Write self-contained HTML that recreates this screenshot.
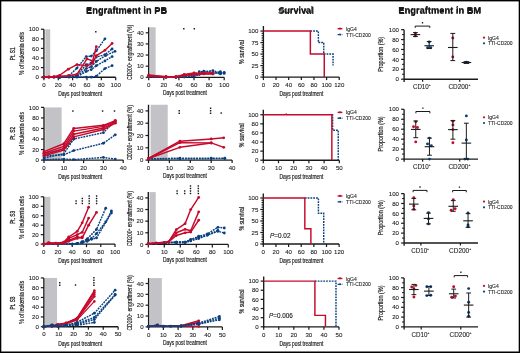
<!DOCTYPE html>
<html><head><meta charset="utf-8"><style>html,body{margin:0;padding:0;background:#fff;}svg{display:block;font-family:"Liberation Sans",sans-serif;will-change:transform;}</style></head>
<body>
<svg width="520" height="353" viewBox="0 0 520 353" font-family="Liberation Sans, sans-serif">
<rect x="0" y="0" width="520" height="353" fill="#fff"/>
<rect x="0" y="0" width="520" height="1.4" fill="#000"/><rect x="0" y="0" width="1.3" height="353" fill="#000"/><rect x="518.7" y="0" width="1.3" height="353" fill="#000"/><rect x="0" y="351.5" width="520" height="1.5" fill="#000"/>
<text x="126.60" y="13.60" font-size="9.3" text-anchor="middle" fill="#1a1a1a" font-weight="bold">Engraftment in PB</text>
<text x="296.00" y="13.60" font-size="9.3" text-anchor="middle" fill="#1a1a1a" font-weight="bold">Survival</text>
<text x="439.80" y="13.60" font-size="9.3" text-anchor="middle" fill="#1a1a1a" font-weight="bold">Engraftment in BM</text>
<text x="126.60" y="12.80" font-size="8.3" text-anchor="middle" fill="#1a1a1a" textLength="81.0" lengthAdjust="spacingAndGlyphs" font-weight="bold">Engraftment in PB</text>
<text x="296.00" y="12.80" font-size="8.3" text-anchor="middle" fill="#1a1a1a" textLength="34.5" lengthAdjust="spacingAndGlyphs" font-weight="bold">Survival</text>
<text x="439.80" y="12.80" font-size="8.3" text-anchor="middle" fill="#1a1a1a" textLength="83.0" lengthAdjust="spacingAndGlyphs" font-weight="bold">Engraftment in BM</text>
<rect x="45.34" y="29.25" width="4.88" height="47.95" fill="#c3c3c7"/>
<line x1="43.90" y1="77.80" x2="43.90" y2="29.25" stroke="#1a1a1a" stroke-width="1.35" />
<line x1="43.30" y1="77.20" x2="115.70" y2="77.20" stroke="#1a1a1a" stroke-width="1.35" />
<line x1="40.90" y1="77.20" x2="43.90" y2="77.20" stroke="#1a1a1a" stroke-width="1.215" />
<text x="38.90" y="79.35" font-size="6.1" text-anchor="end" fill="#1a1a1a" stroke="#1a1a1a" stroke-width="0.09">0</text>
<line x1="40.90" y1="67.61" x2="43.90" y2="67.61" stroke="#1a1a1a" stroke-width="1.215" />
<text x="38.90" y="69.76" font-size="6.1" text-anchor="end" fill="#1a1a1a" stroke="#1a1a1a" stroke-width="0.09">20</text>
<line x1="40.90" y1="58.02" x2="43.90" y2="58.02" stroke="#1a1a1a" stroke-width="1.215" />
<text x="38.90" y="60.17" font-size="6.1" text-anchor="end" fill="#1a1a1a" stroke="#1a1a1a" stroke-width="0.09">40</text>
<line x1="40.90" y1="48.43" x2="43.90" y2="48.43" stroke="#1a1a1a" stroke-width="1.215" />
<text x="38.90" y="50.58" font-size="6.1" text-anchor="end" fill="#1a1a1a" stroke="#1a1a1a" stroke-width="0.09">60</text>
<line x1="40.90" y1="38.84" x2="43.90" y2="38.84" stroke="#1a1a1a" stroke-width="1.215" />
<text x="38.90" y="40.99" font-size="6.1" text-anchor="end" fill="#1a1a1a" stroke="#1a1a1a" stroke-width="0.09">80</text>
<line x1="40.90" y1="29.25" x2="43.90" y2="29.25" stroke="#1a1a1a" stroke-width="1.215" />
<text x="38.90" y="31.40" font-size="6.1" text-anchor="end" fill="#1a1a1a" stroke="#1a1a1a" stroke-width="0.09">100</text>
<line x1="43.90" y1="77.20" x2="43.90" y2="80.20" stroke="#1a1a1a" stroke-width="1.215" />
<text x="43.90" y="86.90" font-size="6.1" text-anchor="middle" fill="#1a1a1a" stroke="#1a1a1a" stroke-width="0.09">0</text>
<line x1="58.26" y1="77.20" x2="58.26" y2="80.20" stroke="#1a1a1a" stroke-width="1.215" />
<text x="58.26" y="86.90" font-size="6.1" text-anchor="middle" fill="#1a1a1a" stroke="#1a1a1a" stroke-width="0.09">20</text>
<line x1="72.62" y1="77.20" x2="72.62" y2="80.20" stroke="#1a1a1a" stroke-width="1.215" />
<text x="72.62" y="86.90" font-size="6.1" text-anchor="middle" fill="#1a1a1a" stroke="#1a1a1a" stroke-width="0.09">40</text>
<line x1="86.98" y1="77.20" x2="86.98" y2="80.20" stroke="#1a1a1a" stroke-width="1.215" />
<text x="86.98" y="86.90" font-size="6.1" text-anchor="middle" fill="#1a1a1a" stroke="#1a1a1a" stroke-width="0.09">60</text>
<line x1="101.34" y1="77.20" x2="101.34" y2="80.20" stroke="#1a1a1a" stroke-width="1.215" />
<text x="101.34" y="86.90" font-size="6.1" text-anchor="middle" fill="#1a1a1a" stroke="#1a1a1a" stroke-width="0.09">80</text>
<line x1="115.70" y1="77.20" x2="115.70" y2="80.20" stroke="#1a1a1a" stroke-width="1.215" />
<text x="115.70" y="86.90" font-size="6.1" text-anchor="middle" fill="#1a1a1a" stroke="#1a1a1a" stroke-width="0.09">100</text>
<text x="80.20" y="96.40" font-size="6.4" text-anchor="middle" fill="#1a1a1a" stroke="#1a1a1a" stroke-width="0.18" textLength="43.9" lengthAdjust="spacingAndGlyphs">Days post treatment</text>
<text x="23.60" y="53.40" font-size="6.9" text-anchor="middle" fill="#1a1a1a" stroke="#1a1a1a" stroke-width="0.18" textLength="43.0" lengthAdjust="spacingAndGlyphs" transform="rotate(-90 23.60 53.40)">% of leukemia cells</text>
<text x="15.00" y="53.85" font-size="8.0" text-anchor="middle" fill="#1a1a1a" stroke="#1a1a1a" stroke-width="0.3" textLength="12.8" lengthAdjust="spacingAndGlyphs" transform="rotate(-90 15.00 53.85)">Pt. S1</text>
<polyline points="43.90,77.20 48.93,77.20 53.95,77.20 59.70,77.20 69.03,75.76 76.93,68.09 86.26,56.58 91.29,56.10 96.31,50.83 104.93,38.84" fill="none" stroke="#0a407f" stroke-width="1.45" stroke-linejoin="round" stroke-dasharray="1.9,0.9"/>
<circle cx="43.90" cy="77.20" r="1.4" fill="#0a407f"/>
<circle cx="48.93" cy="77.20" r="1.4" fill="#0a407f"/>
<circle cx="53.95" cy="77.20" r="1.4" fill="#0a407f"/>
<circle cx="59.70" cy="77.20" r="1.4" fill="#0a407f"/>
<circle cx="69.03" cy="75.76" r="1.4" fill="#0a407f"/>
<circle cx="76.93" cy="68.09" r="1.4" fill="#0a407f"/>
<circle cx="86.26" cy="56.58" r="1.4" fill="#0a407f"/>
<circle cx="91.29" cy="56.10" r="1.4" fill="#0a407f"/>
<circle cx="96.31" cy="50.83" r="1.4" fill="#0a407f"/>
<circle cx="104.93" cy="38.84" r="1.4" fill="#0a407f"/>
<polyline points="43.90,77.20 53.95,77.20 59.70,77.20 69.03,76.72 76.93,74.80 86.26,64.73 91.29,62.81 96.31,57.06 104.93,54.66 112.11,48.91" fill="none" stroke="#0a407f" stroke-width="1.45" stroke-linejoin="round" stroke-dasharray="1.9,0.9"/>
<circle cx="43.90" cy="77.20" r="1.4" fill="#0a407f"/>
<circle cx="53.95" cy="77.20" r="1.4" fill="#0a407f"/>
<circle cx="59.70" cy="77.20" r="1.4" fill="#0a407f"/>
<circle cx="69.03" cy="76.72" r="1.4" fill="#0a407f"/>
<circle cx="76.93" cy="74.80" r="1.4" fill="#0a407f"/>
<circle cx="86.26" cy="64.73" r="1.4" fill="#0a407f"/>
<circle cx="91.29" cy="62.81" r="1.4" fill="#0a407f"/>
<circle cx="96.31" cy="57.06" r="1.4" fill="#0a407f"/>
<circle cx="104.93" cy="54.66" r="1.4" fill="#0a407f"/>
<circle cx="112.11" cy="48.91" r="1.4" fill="#0a407f"/>
<polyline points="43.90,77.20 59.70,77.20 69.03,77.20 76.93,76.24 86.26,68.57 91.29,66.65 96.31,61.38 105.65,55.62 114.98,51.31" fill="none" stroke="#0a407f" stroke-width="1.45" stroke-linejoin="round" stroke-dasharray="1.9,0.9"/>
<circle cx="43.90" cy="77.20" r="1.4" fill="#0a407f"/>
<circle cx="59.70" cy="77.20" r="1.4" fill="#0a407f"/>
<circle cx="69.03" cy="77.20" r="1.4" fill="#0a407f"/>
<circle cx="76.93" cy="76.24" r="1.4" fill="#0a407f"/>
<circle cx="86.26" cy="68.57" r="1.4" fill="#0a407f"/>
<circle cx="91.29" cy="66.65" r="1.4" fill="#0a407f"/>
<circle cx="96.31" cy="61.38" r="1.4" fill="#0a407f"/>
<circle cx="105.65" cy="55.62" r="1.4" fill="#0a407f"/>
<circle cx="114.98" cy="51.31" r="1.4" fill="#0a407f"/>
<polyline points="43.90,77.20 59.70,77.20 76.93,76.72 86.26,71.45 91.29,69.53 96.31,65.69 104.93,60.90 112.11,56.58" fill="none" stroke="#0a407f" stroke-width="1.45" stroke-linejoin="round" stroke-dasharray="1.9,0.9"/>
<circle cx="43.90" cy="77.20" r="1.4" fill="#0a407f"/>
<circle cx="59.70" cy="77.20" r="1.4" fill="#0a407f"/>
<circle cx="76.93" cy="76.72" r="1.4" fill="#0a407f"/>
<circle cx="86.26" cy="71.45" r="1.4" fill="#0a407f"/>
<circle cx="91.29" cy="69.53" r="1.4" fill="#0a407f"/>
<circle cx="96.31" cy="65.69" r="1.4" fill="#0a407f"/>
<circle cx="104.93" cy="60.90" r="1.4" fill="#0a407f"/>
<circle cx="112.11" cy="56.58" r="1.4" fill="#0a407f"/>
<polyline points="43.90,77.20 59.70,77.20 76.93,77.20 86.26,77.20 91.29,77.20 96.31,76.24 104.93,68.57 112.11,65.69" fill="none" stroke="#0a407f" stroke-width="1.45" stroke-linejoin="round" stroke-dasharray="1.9,0.9"/>
<circle cx="43.90" cy="77.20" r="1.4" fill="#0a407f"/>
<circle cx="59.70" cy="77.20" r="1.4" fill="#0a407f"/>
<circle cx="76.93" cy="77.20" r="1.4" fill="#0a407f"/>
<circle cx="86.26" cy="77.20" r="1.4" fill="#0a407f"/>
<circle cx="91.29" cy="77.20" r="1.4" fill="#0a407f"/>
<circle cx="96.31" cy="76.24" r="1.4" fill="#0a407f"/>
<circle cx="104.93" cy="68.57" r="1.4" fill="#0a407f"/>
<circle cx="112.11" cy="65.69" r="1.4" fill="#0a407f"/>
<polyline points="43.90,77.20 48.93,76.96 53.95,76.72 59.70,75.28 68.31,69.14 76.93,64.59 86.98,65.88 92.72,63.29 96.31,55.62 104.93,50.35 112.11,43.44" fill="none" stroke="#c60a2c" stroke-width="1.45" stroke-linejoin="round" />
<circle cx="43.90" cy="77.20" r="1.4" fill="#c60a2c"/>
<circle cx="48.93" cy="76.96" r="1.4" fill="#c60a2c"/>
<circle cx="53.95" cy="76.72" r="1.4" fill="#c60a2c"/>
<circle cx="59.70" cy="75.28" r="1.4" fill="#c60a2c"/>
<circle cx="68.31" cy="69.14" r="1.4" fill="#c60a2c"/>
<circle cx="76.93" cy="64.59" r="1.4" fill="#c60a2c"/>
<circle cx="86.98" cy="65.88" r="1.4" fill="#c60a2c"/>
<circle cx="92.72" cy="63.29" r="1.4" fill="#c60a2c"/>
<circle cx="96.31" cy="55.62" r="1.4" fill="#c60a2c"/>
<circle cx="104.93" cy="50.35" r="1.4" fill="#c60a2c"/>
<circle cx="112.11" cy="43.44" r="1.4" fill="#c60a2c"/>
<polyline points="43.90,77.20 48.93,77.20 53.95,76.96 59.70,76.24 68.31,75.76 76.93,74.32 86.98,58.88 92.72,60.99 96.31,46.70" fill="none" stroke="#c60a2c" stroke-width="1.45" stroke-linejoin="round" />
<circle cx="43.90" cy="77.20" r="1.4" fill="#c60a2c"/>
<circle cx="48.93" cy="77.20" r="1.4" fill="#c60a2c"/>
<circle cx="53.95" cy="76.96" r="1.4" fill="#c60a2c"/>
<circle cx="59.70" cy="76.24" r="1.4" fill="#c60a2c"/>
<circle cx="68.31" cy="75.76" r="1.4" fill="#c60a2c"/>
<circle cx="76.93" cy="74.32" r="1.4" fill="#c60a2c"/>
<circle cx="86.98" cy="58.88" r="1.4" fill="#c60a2c"/>
<circle cx="92.72" cy="60.99" r="1.4" fill="#c60a2c"/>
<circle cx="96.31" cy="46.70" r="1.4" fill="#c60a2c"/>
<rect x="95.05" y="31.05" width="1.5" height="1.5" rx="0.3" fill="#1a1a1a"/>
<rect x="150.06" y="27.24" width="5.59" height="50.06" fill="#c3c3c7"/>
<line x1="148.70" y1="77.90" x2="148.70" y2="27.24" stroke="#1a1a1a" stroke-width="1.35" />
<line x1="148.10" y1="77.30" x2="224.20" y2="77.30" stroke="#1a1a1a" stroke-width="1.35" />
<line x1="145.70" y1="77.30" x2="148.70" y2="77.30" stroke="#1a1a1a" stroke-width="1.215" />
<text x="143.70" y="79.45" font-size="6.1" text-anchor="end" fill="#1a1a1a" stroke="#1a1a1a" stroke-width="0.09">0</text>
<line x1="145.70" y1="66.17" x2="148.70" y2="66.17" stroke="#1a1a1a" stroke-width="1.215" />
<text x="143.70" y="68.33" font-size="6.1" text-anchor="end" fill="#1a1a1a" stroke="#1a1a1a" stroke-width="0.09">10</text>
<line x1="145.70" y1="55.05" x2="148.70" y2="55.05" stroke="#1a1a1a" stroke-width="1.215" />
<text x="143.70" y="57.20" font-size="6.1" text-anchor="end" fill="#1a1a1a" stroke="#1a1a1a" stroke-width="0.09">20</text>
<line x1="145.70" y1="43.92" x2="148.70" y2="43.92" stroke="#1a1a1a" stroke-width="1.215" />
<text x="143.70" y="46.07" font-size="6.1" text-anchor="end" fill="#1a1a1a" stroke="#1a1a1a" stroke-width="0.09">30</text>
<line x1="145.70" y1="32.80" x2="148.70" y2="32.80" stroke="#1a1a1a" stroke-width="1.215" />
<text x="143.70" y="34.95" font-size="6.1" text-anchor="end" fill="#1a1a1a" stroke="#1a1a1a" stroke-width="0.09">40</text>
<line x1="148.70" y1="77.30" x2="148.70" y2="80.30" stroke="#1a1a1a" stroke-width="1.215" />
<text x="148.70" y="87.00" font-size="6.1" text-anchor="middle" fill="#1a1a1a" stroke="#1a1a1a" stroke-width="0.09">0</text>
<line x1="163.80" y1="77.30" x2="163.80" y2="80.30" stroke="#1a1a1a" stroke-width="1.215" />
<text x="163.80" y="87.00" font-size="6.1" text-anchor="middle" fill="#1a1a1a" stroke="#1a1a1a" stroke-width="0.09">20</text>
<line x1="178.90" y1="77.30" x2="178.90" y2="80.30" stroke="#1a1a1a" stroke-width="1.215" />
<text x="178.90" y="87.00" font-size="6.1" text-anchor="middle" fill="#1a1a1a" stroke="#1a1a1a" stroke-width="0.09">40</text>
<line x1="194.00" y1="77.30" x2="194.00" y2="80.30" stroke="#1a1a1a" stroke-width="1.215" />
<text x="194.00" y="87.00" font-size="6.1" text-anchor="middle" fill="#1a1a1a" stroke="#1a1a1a" stroke-width="0.09">60</text>
<line x1="209.10" y1="77.30" x2="209.10" y2="80.30" stroke="#1a1a1a" stroke-width="1.215" />
<text x="209.10" y="87.00" font-size="6.1" text-anchor="middle" fill="#1a1a1a" stroke="#1a1a1a" stroke-width="0.09">80</text>
<line x1="224.20" y1="77.30" x2="224.20" y2="80.30" stroke="#1a1a1a" stroke-width="1.215" />
<text x="224.20" y="87.00" font-size="6.1" text-anchor="middle" fill="#1a1a1a" stroke="#1a1a1a" stroke-width="0.09">100</text>
<text x="185.00" y="95.30" font-size="6.4" text-anchor="middle" fill="#1a1a1a" stroke="#1a1a1a" stroke-width="0.18" textLength="43.9" lengthAdjust="spacingAndGlyphs">Days post treatment</text>
<text x="131.90" y="52.40" font-size="6.7" text-anchor="middle" fill="#1a1a1a" stroke="#1a1a1a" stroke-width="0.18" textLength="55.2" lengthAdjust="spacingAndGlyphs" transform="rotate(-90 131.90 52.40)">CD200<tspan font-size="4.2" dy="-2.3">+</tspan><tspan dy="2.3"> engraftment (%)</tspan></text>
<polyline points="148.70,76.74 166.06,77.30 175.88,77.30 184.19,76.74 194.00,75.08 199.28,71.74 203.81,71.74 212.88,70.62 220.42,72.85 224.20,73.41" fill="none" stroke="#0a407f" stroke-width="1.45" stroke-linejoin="round" stroke-dasharray="1.9,0.9"/>
<circle cx="148.70" cy="76.74" r="1.4" fill="#0a407f"/>
<circle cx="166.06" cy="77.30" r="1.4" fill="#0a407f"/>
<circle cx="175.88" cy="77.30" r="1.4" fill="#0a407f"/>
<circle cx="184.19" cy="76.74" r="1.4" fill="#0a407f"/>
<circle cx="194.00" cy="75.08" r="1.4" fill="#0a407f"/>
<circle cx="199.28" cy="71.74" r="1.4" fill="#0a407f"/>
<circle cx="203.81" cy="71.74" r="1.4" fill="#0a407f"/>
<circle cx="212.88" cy="70.62" r="1.4" fill="#0a407f"/>
<circle cx="220.42" cy="72.85" r="1.4" fill="#0a407f"/>
<circle cx="224.20" cy="73.41" r="1.4" fill="#0a407f"/>
<polyline points="148.70,76.74 166.06,77.30 175.88,77.30 184.19,76.74 194.00,75.63 199.28,73.41 203.81,71.18 212.88,72.29 220.42,73.96 224.20,72.29" fill="none" stroke="#0a407f" stroke-width="1.45" stroke-linejoin="round" stroke-dasharray="1.9,0.9"/>
<circle cx="148.70" cy="76.74" r="1.4" fill="#0a407f"/>
<circle cx="166.06" cy="77.30" r="1.4" fill="#0a407f"/>
<circle cx="175.88" cy="77.30" r="1.4" fill="#0a407f"/>
<circle cx="184.19" cy="76.74" r="1.4" fill="#0a407f"/>
<circle cx="194.00" cy="75.63" r="1.4" fill="#0a407f"/>
<circle cx="199.28" cy="73.41" r="1.4" fill="#0a407f"/>
<circle cx="203.81" cy="71.18" r="1.4" fill="#0a407f"/>
<circle cx="212.88" cy="72.29" r="1.4" fill="#0a407f"/>
<circle cx="220.42" cy="73.96" r="1.4" fill="#0a407f"/>
<circle cx="224.20" cy="72.29" r="1.4" fill="#0a407f"/>
<polyline points="148.70,76.74 175.88,77.30 184.19,76.97 194.00,76.19 199.28,74.52 203.81,73.41 212.88,73.96 220.42,71.74" fill="none" stroke="#0a407f" stroke-width="1.45" stroke-linejoin="round" stroke-dasharray="1.9,0.9"/>
<circle cx="148.70" cy="76.74" r="1.4" fill="#0a407f"/>
<circle cx="175.88" cy="77.30" r="1.4" fill="#0a407f"/>
<circle cx="184.19" cy="76.97" r="1.4" fill="#0a407f"/>
<circle cx="194.00" cy="76.19" r="1.4" fill="#0a407f"/>
<circle cx="199.28" cy="74.52" r="1.4" fill="#0a407f"/>
<circle cx="203.81" cy="73.41" r="1.4" fill="#0a407f"/>
<circle cx="212.88" cy="73.96" r="1.4" fill="#0a407f"/>
<circle cx="220.42" cy="71.74" r="1.4" fill="#0a407f"/>
<polyline points="148.70,75.08 166.06,76.74 175.88,76.74 184.19,74.52 194.00,72.85 199.28,73.41 203.81,73.41 212.88,73.07" fill="none" stroke="#c60a2c" stroke-width="1.45" stroke-linejoin="round" />
<circle cx="148.70" cy="75.08" r="1.4" fill="#c60a2c"/>
<circle cx="166.06" cy="76.74" r="1.4" fill="#c60a2c"/>
<circle cx="175.88" cy="76.74" r="1.4" fill="#c60a2c"/>
<circle cx="184.19" cy="74.52" r="1.4" fill="#c60a2c"/>
<circle cx="194.00" cy="72.85" r="1.4" fill="#c60a2c"/>
<circle cx="199.28" cy="73.41" r="1.4" fill="#c60a2c"/>
<circle cx="203.81" cy="73.41" r="1.4" fill="#c60a2c"/>
<circle cx="212.88" cy="73.07" r="1.4" fill="#c60a2c"/>
<polyline points="148.70,75.63 166.06,76.74 175.88,76.74 184.19,75.08 194.00,73.96 199.28,73.96 203.81,73.96 212.88,73.96" fill="none" stroke="#c60a2c" stroke-width="1.45" stroke-linejoin="round" />
<circle cx="148.70" cy="75.63" r="1.4" fill="#c60a2c"/>
<circle cx="166.06" cy="76.74" r="1.4" fill="#c60a2c"/>
<circle cx="175.88" cy="76.74" r="1.4" fill="#c60a2c"/>
<circle cx="184.19" cy="75.08" r="1.4" fill="#c60a2c"/>
<circle cx="194.00" cy="73.96" r="1.4" fill="#c60a2c"/>
<circle cx="199.28" cy="73.96" r="1.4" fill="#c60a2c"/>
<circle cx="203.81" cy="73.96" r="1.4" fill="#c60a2c"/>
<circle cx="212.88" cy="73.96" r="1.4" fill="#c60a2c"/>
<polyline points="148.70,76.19 166.06,76.97 175.88,76.97 184.19,75.63 194.00,74.52 203.81,72.85 212.88,72.85" fill="none" stroke="#c60a2c" stroke-width="1.45" stroke-linejoin="round" />
<circle cx="148.70" cy="76.19" r="1.4" fill="#c60a2c"/>
<circle cx="166.06" cy="76.97" r="1.4" fill="#c60a2c"/>
<circle cx="175.88" cy="76.97" r="1.4" fill="#c60a2c"/>
<circle cx="184.19" cy="75.63" r="1.4" fill="#c60a2c"/>
<circle cx="194.00" cy="74.52" r="1.4" fill="#c60a2c"/>
<circle cx="203.81" cy="72.85" r="1.4" fill="#c60a2c"/>
<circle cx="212.88" cy="72.85" r="1.4" fill="#c60a2c"/>
<rect x="183.05" y="28.05" width="1.5" height="1.5" rx="0.3" fill="#1a1a1a"/>
<rect x="193.55" y="28.05" width="1.5" height="1.5" rx="0.3" fill="#1a1a1a"/>
<line x1="263.40" y1="77.70" x2="263.40" y2="25.98" stroke="#1a1a1a" stroke-width="1.35" />
<line x1="262.80" y1="77.10" x2="339.24" y2="77.10" stroke="#1a1a1a" stroke-width="1.35" />
<line x1="260.40" y1="77.10" x2="263.40" y2="77.10" stroke="#1a1a1a" stroke-width="1.215" />
<text x="258.40" y="79.25" font-size="6.1" text-anchor="end" fill="#1a1a1a" stroke="#1a1a1a" stroke-width="0.09">0</text>
<line x1="260.40" y1="65.59" x2="263.40" y2="65.59" stroke="#1a1a1a" stroke-width="1.215" />
<text x="258.40" y="67.74" font-size="6.1" text-anchor="end" fill="#1a1a1a" stroke="#1a1a1a" stroke-width="0.09">25</text>
<line x1="260.40" y1="54.07" x2="263.40" y2="54.07" stroke="#1a1a1a" stroke-width="1.215" />
<text x="258.40" y="56.22" font-size="6.1" text-anchor="end" fill="#1a1a1a" stroke="#1a1a1a" stroke-width="0.09">50</text>
<line x1="260.40" y1="42.56" x2="263.40" y2="42.56" stroke="#1a1a1a" stroke-width="1.215" />
<text x="258.40" y="44.71" font-size="6.1" text-anchor="end" fill="#1a1a1a" stroke="#1a1a1a" stroke-width="0.09">75</text>
<line x1="260.40" y1="31.05" x2="263.40" y2="31.05" stroke="#1a1a1a" stroke-width="1.215" />
<text x="258.40" y="33.20" font-size="6.1" text-anchor="end" fill="#1a1a1a" stroke="#1a1a1a" stroke-width="0.09">100</text>
<line x1="261.60" y1="74.80" x2="263.40" y2="74.80" stroke="#1a1a1a" stroke-width="1.08" />
<line x1="261.60" y1="72.49" x2="263.40" y2="72.49" stroke="#1a1a1a" stroke-width="1.08" />
<line x1="261.60" y1="70.19" x2="263.40" y2="70.19" stroke="#1a1a1a" stroke-width="1.08" />
<line x1="261.60" y1="67.89" x2="263.40" y2="67.89" stroke="#1a1a1a" stroke-width="1.08" />
<line x1="261.60" y1="63.28" x2="263.40" y2="63.28" stroke="#1a1a1a" stroke-width="1.08" />
<line x1="261.60" y1="60.98" x2="263.40" y2="60.98" stroke="#1a1a1a" stroke-width="1.08" />
<line x1="261.60" y1="58.68" x2="263.40" y2="58.68" stroke="#1a1a1a" stroke-width="1.08" />
<line x1="261.60" y1="56.38" x2="263.40" y2="56.38" stroke="#1a1a1a" stroke-width="1.08" />
<line x1="261.60" y1="51.77" x2="263.40" y2="51.77" stroke="#1a1a1a" stroke-width="1.08" />
<line x1="261.60" y1="49.47" x2="263.40" y2="49.47" stroke="#1a1a1a" stroke-width="1.08" />
<line x1="261.60" y1="47.17" x2="263.40" y2="47.17" stroke="#1a1a1a" stroke-width="1.08" />
<line x1="261.60" y1="44.86" x2="263.40" y2="44.86" stroke="#1a1a1a" stroke-width="1.08" />
<line x1="261.60" y1="40.26" x2="263.40" y2="40.26" stroke="#1a1a1a" stroke-width="1.08" />
<line x1="261.60" y1="37.96" x2="263.40" y2="37.96" stroke="#1a1a1a" stroke-width="1.08" />
<line x1="261.60" y1="35.65" x2="263.40" y2="35.65" stroke="#1a1a1a" stroke-width="1.08" />
<line x1="261.60" y1="33.35" x2="263.40" y2="33.35" stroke="#1a1a1a" stroke-width="1.08" />
<line x1="263.40" y1="77.10" x2="263.40" y2="80.10" stroke="#1a1a1a" stroke-width="1.215" />
<text x="263.40" y="86.80" font-size="6.1" text-anchor="middle" fill="#1a1a1a" stroke="#1a1a1a" stroke-width="0.09">0</text>
<line x1="276.04" y1="77.10" x2="276.04" y2="80.10" stroke="#1a1a1a" stroke-width="1.215" />
<text x="276.04" y="86.80" font-size="6.1" text-anchor="middle" fill="#1a1a1a" stroke="#1a1a1a" stroke-width="0.09">20</text>
<line x1="288.68" y1="77.10" x2="288.68" y2="80.10" stroke="#1a1a1a" stroke-width="1.215" />
<text x="288.68" y="86.80" font-size="6.1" text-anchor="middle" fill="#1a1a1a" stroke="#1a1a1a" stroke-width="0.09">40</text>
<line x1="301.32" y1="77.10" x2="301.32" y2="80.10" stroke="#1a1a1a" stroke-width="1.215" />
<text x="301.32" y="86.80" font-size="6.1" text-anchor="middle" fill="#1a1a1a" stroke="#1a1a1a" stroke-width="0.09">60</text>
<line x1="313.96" y1="77.10" x2="313.96" y2="80.10" stroke="#1a1a1a" stroke-width="1.215" />
<text x="313.96" y="86.80" font-size="6.1" text-anchor="middle" fill="#1a1a1a" stroke="#1a1a1a" stroke-width="0.09">80</text>
<line x1="326.60" y1="77.10" x2="326.60" y2="80.10" stroke="#1a1a1a" stroke-width="1.215" />
<text x="326.60" y="86.80" font-size="6.1" text-anchor="middle" fill="#1a1a1a" stroke="#1a1a1a" stroke-width="0.09">100</text>
<line x1="339.24" y1="77.10" x2="339.24" y2="80.10" stroke="#1a1a1a" stroke-width="1.215" />
<text x="339.24" y="86.80" font-size="6.1" text-anchor="middle" fill="#1a1a1a" stroke="#1a1a1a" stroke-width="0.09">120</text>
<text x="301.40" y="96.30" font-size="6.4" text-anchor="middle" fill="#1a1a1a" stroke="#1a1a1a" stroke-width="0.18" textLength="43.9" lengthAdjust="spacingAndGlyphs">Days post treatment</text>
<text x="243.60" y="52.00" font-size="6.5" text-anchor="middle" fill="#1a1a1a" stroke="#1a1a1a" stroke-width="0.18" textLength="23.8" lengthAdjust="spacingAndGlyphs" transform="rotate(-90 243.60 52.00)">% survival</text>
<line x1="337.60" y1="28.70" x2="342.40" y2="28.70" stroke="#c60a2c" stroke-width="1.4" />
<circle cx="340.0" cy="28.50" r="1.0" fill="#c60a2c"/>
<text x="345.90" y="30.70" font-size="5.6" text-anchor="start" fill="#1a1a1a" stroke="#1a1a1a" stroke-width="0.09" textLength="11.0" lengthAdjust="spacingAndGlyphs">IgG4</text>
<line x1="337.60" y1="34.60" x2="342.40" y2="34.60" stroke="#0a407f" stroke-width="1.4" stroke-dasharray="1.4,0.7"/>
<circle cx="340.0" cy="34.40" r="1.0" fill="#0a407f"/>
<text x="346.10" y="36.60" font-size="5.6" text-anchor="start" fill="#1a1a1a" stroke="#1a1a1a" stroke-width="0.09" textLength="24.6" lengthAdjust="spacingAndGlyphs">TTI-CD200</text>
<polyline points="310.36,31.05 318.38,31.05 318.38,42.56 323.76,42.56 323.76,54.07 333.05,54.07 333.05,65.59" fill="none" stroke="#0a407f" stroke-width="1.45" stroke-dasharray="1.8,1.0"/>
<polyline points="263.40,31.05 310.36,31.05 310.36,54.07 324.26,54.07 324.26,77.10" fill="none" stroke="#c60a2c" stroke-width="1.45" />
<line x1="404.10" y1="81.90" x2="404.10" y2="29.65" stroke="#1a1a1a" stroke-width="1.35" />
<line x1="404.10" y1="79.20" x2="478.00" y2="79.20" stroke="#1a1a1a" stroke-width="1.35" />
<line x1="401.10" y1="79.20" x2="404.10" y2="79.20" stroke="#1a1a1a" stroke-width="1.215" />
<text x="399.00" y="81.35" font-size="6.1" text-anchor="end" fill="#1a1a1a" stroke="#1a1a1a" stroke-width="0.09">0</text>
<line x1="401.10" y1="69.29" x2="404.10" y2="69.29" stroke="#1a1a1a" stroke-width="1.215" />
<text x="399.00" y="71.44" font-size="6.1" text-anchor="end" fill="#1a1a1a" stroke="#1a1a1a" stroke-width="0.09">20</text>
<line x1="401.10" y1="59.38" x2="404.10" y2="59.38" stroke="#1a1a1a" stroke-width="1.215" />
<text x="399.00" y="61.53" font-size="6.1" text-anchor="end" fill="#1a1a1a" stroke="#1a1a1a" stroke-width="0.09">40</text>
<line x1="401.10" y1="49.47" x2="404.10" y2="49.47" stroke="#1a1a1a" stroke-width="1.215" />
<text x="399.00" y="51.62" font-size="6.1" text-anchor="end" fill="#1a1a1a" stroke="#1a1a1a" stroke-width="0.09">60</text>
<line x1="401.10" y1="39.56" x2="404.10" y2="39.56" stroke="#1a1a1a" stroke-width="1.215" />
<text x="399.00" y="41.71" font-size="6.1" text-anchor="end" fill="#1a1a1a" stroke="#1a1a1a" stroke-width="0.09">80</text>
<line x1="401.10" y1="29.65" x2="404.10" y2="29.65" stroke="#1a1a1a" stroke-width="1.215" />
<text x="399.00" y="31.80" font-size="6.1" text-anchor="end" fill="#1a1a1a" stroke="#1a1a1a" stroke-width="0.09">100</text>
<line x1="402.10" y1="74.25" x2="404.10" y2="74.25" stroke="#1a1a1a" stroke-width="1.08" />
<line x1="402.10" y1="64.34" x2="404.10" y2="64.34" stroke="#1a1a1a" stroke-width="1.08" />
<line x1="402.10" y1="54.42" x2="404.10" y2="54.42" stroke="#1a1a1a" stroke-width="1.08" />
<line x1="402.10" y1="44.52" x2="404.10" y2="44.52" stroke="#1a1a1a" stroke-width="1.08" />
<line x1="402.10" y1="34.60" x2="404.10" y2="34.60" stroke="#1a1a1a" stroke-width="1.08" />
<line x1="422.60" y1="79.20" x2="422.60" y2="81.70" stroke="#1a1a1a" stroke-width="1.215" />
<line x1="459.70" y1="79.20" x2="459.70" y2="81.70" stroke="#1a1a1a" stroke-width="1.215" />
<text x="421.80" y="88.90" font-size="6.5" text-anchor="middle" fill="#1a1a1a" stroke="#1a1a1a" stroke-width="0.09" textLength="17.8" lengthAdjust="spacingAndGlyphs">CD10<tspan font-size="3.4" dy="-3.0">+</tspan></text>
<text x="459.40" y="88.90" font-size="6.5" text-anchor="middle" fill="#1a1a1a" stroke="#1a1a1a" stroke-width="0.09" textLength="22.0" lengthAdjust="spacingAndGlyphs">CD200<tspan font-size="3.4" dy="-3.0">+</tspan></text>
<text x="383.40" y="54.35" font-size="6.9" text-anchor="middle" fill="#1a1a1a" stroke="#1a1a1a" stroke-width="0.18" textLength="35.0" lengthAdjust="spacingAndGlyphs" transform="rotate(-90 383.40 54.35)">Proportion (%)</text>
<circle cx="415.40" cy="33.12" r="1.45" fill="#c60a2c"/>
<circle cx="415.40" cy="35.84" r="1.45" fill="#c60a2c"/>
<line x1="415.40" y1="32.62" x2="415.40" y2="36.59" stroke="#1a1a1a" stroke-width="1.0" />
<line x1="413.00" y1="32.62" x2="417.80" y2="32.62" stroke="#1a1a1a" stroke-width="1.0" />
<line x1="413.00" y1="36.59" x2="417.80" y2="36.59" stroke="#1a1a1a" stroke-width="1.0" />
<line x1="410.60" y1="34.60" x2="420.20" y2="34.60" stroke="#1a1a1a" stroke-width="1.1" />
<circle cx="429.20" cy="42.04" r="1.45" fill="#0a407f"/>
<circle cx="427.60" cy="47.74" r="1.45" fill="#0a407f"/>
<circle cx="430.80" cy="47.74" r="1.45" fill="#0a407f"/>
<line x1="429.20" y1="41.54" x2="429.20" y2="48.48" stroke="#1a1a1a" stroke-width="1.0" />
<line x1="426.80" y1="41.54" x2="431.60" y2="41.54" stroke="#1a1a1a" stroke-width="1.0" />
<line x1="426.80" y1="48.48" x2="431.60" y2="48.48" stroke="#1a1a1a" stroke-width="1.0" />
<line x1="424.40" y1="45.75" x2="434.00" y2="45.75" stroke="#1a1a1a" stroke-width="1.1" />
<circle cx="452.80" cy="38.02" r="1.45" fill="#c60a2c"/>
<circle cx="452.80" cy="56.90" r="1.45" fill="#c60a2c"/>
<line x1="452.80" y1="33.42" x2="452.80" y2="60.62" stroke="#1a1a1a" stroke-width="1.0" />
<line x1="450.40" y1="33.42" x2="455.20" y2="33.42" stroke="#1a1a1a" stroke-width="1.0" />
<line x1="450.40" y1="60.62" x2="455.20" y2="60.62" stroke="#1a1a1a" stroke-width="1.0" />
<line x1="448.00" y1="47.49" x2="457.60" y2="47.49" stroke="#1a1a1a" stroke-width="1.1" />
<circle cx="464.60" cy="62.60" r="1.45" fill="#0a407f"/>
<circle cx="468.20" cy="62.60" r="1.45" fill="#0a407f"/>
<circle cx="466.40" cy="62.11" r="1.45" fill="#0a407f"/>
<line x1="466.40" y1="61.86" x2="466.40" y2="63.34" stroke="#1a1a1a" stroke-width="1.0" />
<line x1="464.00" y1="61.86" x2="468.80" y2="61.86" stroke="#1a1a1a" stroke-width="1.0" />
<line x1="464.00" y1="63.34" x2="468.80" y2="63.34" stroke="#1a1a1a" stroke-width="1.0" />
<line x1="461.60" y1="62.50" x2="471.20" y2="62.50" stroke="#1a1a1a" stroke-width="1.1" />
<polyline points="415.20,27.90 415.20,26.10 429.80,26.10 429.80,27.90" fill="none" stroke="#1a1a1a" stroke-width="1.0"/>
<rect x="421.80" y="22.00" width="1.4" height="1.4" rx="0.3" fill="#1a1a1a"/>
<circle cx="484.0" cy="37.65" r="1.1" fill="#c60a2c"/>
<text x="487.90" y="39.65" font-size="5.6" text-anchor="start" fill="#1a1a1a" stroke="#1a1a1a" stroke-width="0.09" textLength="11.0" lengthAdjust="spacingAndGlyphs">IgG4</text>
<circle cx="484.0" cy="43.35" r="1.1" fill="#0a407f"/>
<text x="488.00" y="45.35" font-size="5.6" text-anchor="start" fill="#1a1a1a" stroke="#1a1a1a" stroke-width="0.09" textLength="24.6" lengthAdjust="spacingAndGlyphs">TTI-CD200</text>
<rect x="45.19" y="107.40" width="16.43" height="52.70" fill="#c3c3c7"/>
<line x1="44.00" y1="160.70" x2="44.00" y2="107.40" stroke="#1a1a1a" stroke-width="1.35" />
<line x1="43.40" y1="160.10" x2="123.20" y2="160.10" stroke="#1a1a1a" stroke-width="1.35" />
<line x1="41.00" y1="160.10" x2="44.00" y2="160.10" stroke="#1a1a1a" stroke-width="1.215" />
<text x="39.00" y="162.25" font-size="6.1" text-anchor="end" fill="#1a1a1a" stroke="#1a1a1a" stroke-width="0.09">0</text>
<line x1="41.00" y1="149.56" x2="44.00" y2="149.56" stroke="#1a1a1a" stroke-width="1.215" />
<text x="39.00" y="151.71" font-size="6.1" text-anchor="end" fill="#1a1a1a" stroke="#1a1a1a" stroke-width="0.09">20</text>
<line x1="41.00" y1="139.02" x2="44.00" y2="139.02" stroke="#1a1a1a" stroke-width="1.215" />
<text x="39.00" y="141.17" font-size="6.1" text-anchor="end" fill="#1a1a1a" stroke="#1a1a1a" stroke-width="0.09">40</text>
<line x1="41.00" y1="128.48" x2="44.00" y2="128.48" stroke="#1a1a1a" stroke-width="1.215" />
<text x="39.00" y="130.63" font-size="6.1" text-anchor="end" fill="#1a1a1a" stroke="#1a1a1a" stroke-width="0.09">60</text>
<line x1="41.00" y1="117.94" x2="44.00" y2="117.94" stroke="#1a1a1a" stroke-width="1.215" />
<text x="39.00" y="120.09" font-size="6.1" text-anchor="end" fill="#1a1a1a" stroke="#1a1a1a" stroke-width="0.09">80</text>
<line x1="41.00" y1="107.40" x2="44.00" y2="107.40" stroke="#1a1a1a" stroke-width="1.215" />
<text x="39.00" y="109.55" font-size="6.1" text-anchor="end" fill="#1a1a1a" stroke="#1a1a1a" stroke-width="0.09">100</text>
<line x1="44.00" y1="160.10" x2="44.00" y2="163.10" stroke="#1a1a1a" stroke-width="1.215" />
<text x="44.00" y="169.80" font-size="6.1" text-anchor="middle" fill="#1a1a1a" stroke="#1a1a1a" stroke-width="0.09">0</text>
<line x1="63.80" y1="160.10" x2="63.80" y2="163.10" stroke="#1a1a1a" stroke-width="1.215" />
<text x="63.80" y="169.80" font-size="6.1" text-anchor="middle" fill="#1a1a1a" stroke="#1a1a1a" stroke-width="0.09">10</text>
<line x1="83.60" y1="160.10" x2="83.60" y2="163.10" stroke="#1a1a1a" stroke-width="1.215" />
<text x="83.60" y="169.80" font-size="6.1" text-anchor="middle" fill="#1a1a1a" stroke="#1a1a1a" stroke-width="0.09">20</text>
<line x1="103.40" y1="160.10" x2="103.40" y2="163.10" stroke="#1a1a1a" stroke-width="1.215" />
<text x="103.40" y="169.80" font-size="6.1" text-anchor="middle" fill="#1a1a1a" stroke="#1a1a1a" stroke-width="0.09">30</text>
<line x1="123.20" y1="160.10" x2="123.20" y2="163.10" stroke="#1a1a1a" stroke-width="1.215" />
<text x="123.20" y="169.80" font-size="6.1" text-anchor="middle" fill="#1a1a1a" stroke="#1a1a1a" stroke-width="0.09">40</text>
<text x="80.20" y="179.30" font-size="6.4" text-anchor="middle" fill="#1a1a1a" stroke="#1a1a1a" stroke-width="0.18" textLength="43.9" lengthAdjust="spacingAndGlyphs">Days post treatment</text>
<text x="23.60" y="133.55" font-size="6.9" text-anchor="middle" fill="#1a1a1a" stroke="#1a1a1a" stroke-width="0.18" textLength="43.0" lengthAdjust="spacingAndGlyphs" transform="rotate(-90 23.60 133.55)">% of leukemia cells</text>
<text x="15.00" y="133.40" font-size="8.0" text-anchor="middle" fill="#1a1a1a" stroke="#1a1a1a" stroke-width="0.3" textLength="12.8" lengthAdjust="spacingAndGlyphs" transform="rotate(-90 15.00 133.40)">Pt. S2</text>
<polyline points="44.00,153.25 63.80,150.09 73.70,139.02 103.40,132.70 115.28,120.58" fill="none" stroke="#0a407f" stroke-width="1.45" stroke-linejoin="round" stroke-dasharray="1.9,0.9"/>
<circle cx="44.00" cy="153.25" r="1.4" fill="#0a407f"/>
<circle cx="63.80" cy="150.09" r="1.4" fill="#0a407f"/>
<circle cx="73.70" cy="139.02" r="1.4" fill="#0a407f"/>
<circle cx="103.40" cy="132.70" r="1.4" fill="#0a407f"/>
<circle cx="115.28" cy="120.58" r="1.4" fill="#0a407f"/>
<polyline points="44.00,155.88 63.80,154.83 73.70,150.61 103.40,143.24 115.28,134.80" fill="none" stroke="#0a407f" stroke-width="1.45" stroke-linejoin="round" stroke-dasharray="1.9,0.9"/>
<circle cx="44.00" cy="155.88" r="1.4" fill="#0a407f"/>
<circle cx="63.80" cy="154.83" r="1.4" fill="#0a407f"/>
<circle cx="73.70" cy="150.61" r="1.4" fill="#0a407f"/>
<circle cx="103.40" cy="143.24" r="1.4" fill="#0a407f"/>
<circle cx="115.28" cy="134.80" r="1.4" fill="#0a407f"/>
<polyline points="44.00,157.99 63.80,153.78 73.70,139.02" fill="none" stroke="#0a407f" stroke-width="1.45" stroke-linejoin="round" stroke-dasharray="1.9,0.9"/>
<circle cx="44.00" cy="157.99" r="1.4" fill="#0a407f"/>
<circle cx="63.80" cy="153.78" r="1.4" fill="#0a407f"/>
<circle cx="73.70" cy="139.02" r="1.4" fill="#0a407f"/>
<polyline points="44.00,159.57 63.80,159.05 73.70,159.57 103.40,157.47 115.28,159.05" fill="none" stroke="#0a407f" stroke-width="1.45" stroke-linejoin="round" stroke-dasharray="1.9,0.9"/>
<circle cx="44.00" cy="159.57" r="1.4" fill="#0a407f"/>
<circle cx="63.80" cy="159.05" r="1.4" fill="#0a407f"/>
<circle cx="73.70" cy="159.57" r="1.4" fill="#0a407f"/>
<circle cx="103.40" cy="157.47" r="1.4" fill="#0a407f"/>
<circle cx="115.28" cy="159.05" r="1.4" fill="#0a407f"/>
<polyline points="44.00,151.67 63.80,143.76 73.70,128.48 103.40,125.32 115.28,120.58" fill="none" stroke="#c60a2c" stroke-width="1.45" stroke-linejoin="round" />
<circle cx="44.00" cy="151.67" r="1.4" fill="#c60a2c"/>
<circle cx="63.80" cy="143.76" r="1.4" fill="#c60a2c"/>
<circle cx="73.70" cy="128.48" r="1.4" fill="#c60a2c"/>
<circle cx="103.40" cy="125.32" r="1.4" fill="#c60a2c"/>
<circle cx="115.28" cy="120.58" r="1.4" fill="#c60a2c"/>
<polyline points="44.00,153.25 63.80,146.40 73.70,131.12 103.40,126.37 115.28,121.63" fill="none" stroke="#c60a2c" stroke-width="1.45" stroke-linejoin="round" />
<circle cx="44.00" cy="153.25" r="1.4" fill="#c60a2c"/>
<circle cx="63.80" cy="146.40" r="1.4" fill="#c60a2c"/>
<circle cx="73.70" cy="131.12" r="1.4" fill="#c60a2c"/>
<circle cx="103.40" cy="126.37" r="1.4" fill="#c60a2c"/>
<circle cx="115.28" cy="121.63" r="1.4" fill="#c60a2c"/>
<polyline points="44.00,154.83 63.80,148.51 73.70,134.28 103.40,127.95 115.28,122.68" fill="none" stroke="#c60a2c" stroke-width="1.45" stroke-linejoin="round" />
<circle cx="44.00" cy="154.83" r="1.4" fill="#c60a2c"/>
<circle cx="63.80" cy="148.51" r="1.4" fill="#c60a2c"/>
<circle cx="73.70" cy="134.28" r="1.4" fill="#c60a2c"/>
<circle cx="103.40" cy="127.95" r="1.4" fill="#c60a2c"/>
<circle cx="115.28" cy="122.68" r="1.4" fill="#c60a2c"/>
<polyline points="44.00,155.88 63.80,150.09 73.70,136.91 103.40,129.53 115.28,123.21" fill="none" stroke="#c60a2c" stroke-width="1.45" stroke-linejoin="round" />
<circle cx="44.00" cy="155.88" r="1.4" fill="#c60a2c"/>
<circle cx="63.80" cy="150.09" r="1.4" fill="#c60a2c"/>
<circle cx="73.70" cy="136.91" r="1.4" fill="#c60a2c"/>
<circle cx="103.40" cy="129.53" r="1.4" fill="#c60a2c"/>
<circle cx="115.28" cy="123.21" r="1.4" fill="#c60a2c"/>
<rect x="72.15" y="110.35" width="1.5" height="1.5" rx="0.3" fill="#1a1a1a"/>
<rect x="101.85" y="110.35" width="1.5" height="1.5" rx="0.3" fill="#1a1a1a"/>
<rect x="113.75" y="110.35" width="1.5" height="1.5" rx="0.3" fill="#1a1a1a"/>
<rect x="150.59" y="104.75" width="17.14" height="55.35" fill="#c3c3c7"/>
<line x1="148.50" y1="160.70" x2="148.50" y2="104.75" stroke="#1a1a1a" stroke-width="1.35" />
<line x1="147.90" y1="160.10" x2="232.10" y2="160.10" stroke="#1a1a1a" stroke-width="1.35" />
<line x1="145.50" y1="160.10" x2="148.50" y2="160.10" stroke="#1a1a1a" stroke-width="1.215" />
<text x="143.50" y="162.25" font-size="6.1" text-anchor="end" fill="#1a1a1a" stroke="#1a1a1a" stroke-width="0.09">0</text>
<line x1="145.50" y1="147.80" x2="148.50" y2="147.80" stroke="#1a1a1a" stroke-width="1.215" />
<text x="143.50" y="149.95" font-size="6.1" text-anchor="end" fill="#1a1a1a" stroke="#1a1a1a" stroke-width="0.09">10</text>
<line x1="145.50" y1="135.50" x2="148.50" y2="135.50" stroke="#1a1a1a" stroke-width="1.215" />
<text x="143.50" y="137.65" font-size="6.1" text-anchor="end" fill="#1a1a1a" stroke="#1a1a1a" stroke-width="0.09">20</text>
<line x1="145.50" y1="123.20" x2="148.50" y2="123.20" stroke="#1a1a1a" stroke-width="1.215" />
<text x="143.50" y="125.35" font-size="6.1" text-anchor="end" fill="#1a1a1a" stroke="#1a1a1a" stroke-width="0.09">30</text>
<line x1="145.50" y1="110.90" x2="148.50" y2="110.90" stroke="#1a1a1a" stroke-width="1.215" />
<text x="143.50" y="113.05" font-size="6.1" text-anchor="end" fill="#1a1a1a" stroke="#1a1a1a" stroke-width="0.09">40</text>
<line x1="148.50" y1="160.10" x2="148.50" y2="163.10" stroke="#1a1a1a" stroke-width="1.215" />
<text x="148.50" y="169.80" font-size="6.1" text-anchor="middle" fill="#1a1a1a" stroke="#1a1a1a" stroke-width="0.09">0</text>
<line x1="169.40" y1="160.10" x2="169.40" y2="163.10" stroke="#1a1a1a" stroke-width="1.215" />
<text x="169.40" y="169.80" font-size="6.1" text-anchor="middle" fill="#1a1a1a" stroke="#1a1a1a" stroke-width="0.09">10</text>
<line x1="190.30" y1="160.10" x2="190.30" y2="163.10" stroke="#1a1a1a" stroke-width="1.215" />
<text x="190.30" y="169.80" font-size="6.1" text-anchor="middle" fill="#1a1a1a" stroke="#1a1a1a" stroke-width="0.09">20</text>
<line x1="211.20" y1="160.10" x2="211.20" y2="163.10" stroke="#1a1a1a" stroke-width="1.215" />
<text x="211.20" y="169.80" font-size="6.1" text-anchor="middle" fill="#1a1a1a" stroke="#1a1a1a" stroke-width="0.09">30</text>
<line x1="232.10" y1="160.10" x2="232.10" y2="163.10" stroke="#1a1a1a" stroke-width="1.215" />
<text x="232.10" y="169.80" font-size="6.1" text-anchor="middle" fill="#1a1a1a" stroke="#1a1a1a" stroke-width="0.09">40</text>
<text x="185.00" y="178.10" font-size="6.4" text-anchor="middle" fill="#1a1a1a" stroke="#1a1a1a" stroke-width="0.18" textLength="43.9" lengthAdjust="spacingAndGlyphs">Days post treatment</text>
<text x="131.90" y="132.70" font-size="6.7" text-anchor="middle" fill="#1a1a1a" stroke="#1a1a1a" stroke-width="0.18" textLength="55.2" lengthAdjust="spacingAndGlyphs" transform="rotate(-90 131.90 132.70)">CD200<tspan font-size="4.2" dy="-2.3">+</tspan><tspan dy="2.3"> engraftment (%)</tspan></text>
<polyline points="148.50,158.87 179.85,158.13 211.20,158.13 224.78,158.13" fill="none" stroke="#0a407f" stroke-width="1.45" stroke-linejoin="round" stroke-dasharray="1.9,0.9"/>
<circle cx="148.50" cy="158.87" r="1.4" fill="#0a407f"/>
<circle cx="179.85" cy="158.13" r="1.4" fill="#0a407f"/>
<circle cx="211.20" cy="158.13" r="1.4" fill="#0a407f"/>
<circle cx="224.78" cy="158.13" r="1.4" fill="#0a407f"/>
<polyline points="148.50,158.87 179.85,158.87 211.20,158.62 224.78,158.62" fill="none" stroke="#0a407f" stroke-width="1.45" stroke-linejoin="round" stroke-dasharray="1.9,0.9"/>
<circle cx="148.50" cy="158.87" r="1.4" fill="#0a407f"/>
<circle cx="179.85" cy="158.87" r="1.4" fill="#0a407f"/>
<circle cx="211.20" cy="158.62" r="1.4" fill="#0a407f"/>
<circle cx="224.78" cy="158.62" r="1.4" fill="#0a407f"/>
<polyline points="148.50,158.50 179.85,141.16 211.20,138.94 223.74,137.84" fill="none" stroke="#c60a2c" stroke-width="1.45" stroke-linejoin="round" />
<circle cx="148.50" cy="158.50" r="1.4" fill="#c60a2c"/>
<circle cx="179.85" cy="141.16" r="1.4" fill="#c60a2c"/>
<circle cx="211.20" cy="138.94" r="1.4" fill="#c60a2c"/>
<circle cx="223.74" cy="137.84" r="1.4" fill="#c60a2c"/>
<polyline points="148.50,158.50 179.85,142.63 211.20,142.88 223.74,147.31" fill="none" stroke="#c60a2c" stroke-width="1.45" stroke-linejoin="round" />
<circle cx="148.50" cy="158.50" r="1.4" fill="#c60a2c"/>
<circle cx="179.85" cy="142.63" r="1.4" fill="#c60a2c"/>
<circle cx="211.20" cy="142.88" r="1.4" fill="#c60a2c"/>
<circle cx="223.74" cy="147.31" r="1.4" fill="#c60a2c"/>
<polyline points="148.50,158.50 179.85,147.31 211.20,143.00" fill="none" stroke="#c60a2c" stroke-width="1.45" stroke-linejoin="round" />
<circle cx="148.50" cy="158.50" r="1.4" fill="#c60a2c"/>
<circle cx="179.85" cy="147.31" r="1.4" fill="#c60a2c"/>
<circle cx="211.20" cy="143.00" r="1.4" fill="#c60a2c"/>
<rect x="178.45" y="112.55" width="1.5" height="1.5" rx="0.3" fill="#1a1a1a"/>
<rect x="178.45" y="110.05" width="1.5" height="1.5" rx="0.3" fill="#1a1a1a"/>
<rect x="209.85" y="112.55" width="1.5" height="1.5" rx="0.3" fill="#1a1a1a"/>
<rect x="209.85" y="110.05" width="1.5" height="1.5" rx="0.3" fill="#1a1a1a"/>
<rect x="209.85" y="107.55" width="1.5" height="1.5" rx="0.3" fill="#1a1a1a"/>
<rect x="220.45" y="112.35" width="1.5" height="1.5" rx="0.3" fill="#1a1a1a"/>
<line x1="263.30" y1="160.80" x2="263.30" y2="109.75" stroke="#1a1a1a" stroke-width="1.35" />
<line x1="262.70" y1="160.20" x2="339.30" y2="160.20" stroke="#1a1a1a" stroke-width="1.35" />
<line x1="260.30" y1="160.20" x2="263.30" y2="160.20" stroke="#1a1a1a" stroke-width="1.215" />
<text x="258.30" y="162.35" font-size="6.1" text-anchor="end" fill="#1a1a1a" stroke="#1a1a1a" stroke-width="0.09">0</text>
<line x1="260.30" y1="151.11" x2="263.30" y2="151.11" stroke="#1a1a1a" stroke-width="1.215" />
<text x="258.30" y="153.26" font-size="6.1" text-anchor="end" fill="#1a1a1a" stroke="#1a1a1a" stroke-width="0.09">20</text>
<line x1="260.30" y1="142.02" x2="263.30" y2="142.02" stroke="#1a1a1a" stroke-width="1.215" />
<text x="258.30" y="144.17" font-size="6.1" text-anchor="end" fill="#1a1a1a" stroke="#1a1a1a" stroke-width="0.09">40</text>
<line x1="260.30" y1="132.93" x2="263.30" y2="132.93" stroke="#1a1a1a" stroke-width="1.215" />
<text x="258.30" y="135.08" font-size="6.1" text-anchor="end" fill="#1a1a1a" stroke="#1a1a1a" stroke-width="0.09">60</text>
<line x1="260.30" y1="123.84" x2="263.30" y2="123.84" stroke="#1a1a1a" stroke-width="1.215" />
<text x="258.30" y="125.99" font-size="6.1" text-anchor="end" fill="#1a1a1a" stroke="#1a1a1a" stroke-width="0.09">80</text>
<line x1="260.30" y1="114.75" x2="263.30" y2="114.75" stroke="#1a1a1a" stroke-width="1.215" />
<text x="258.30" y="116.90" font-size="6.1" text-anchor="end" fill="#1a1a1a" stroke="#1a1a1a" stroke-width="0.09">100</text>
<line x1="263.30" y1="160.20" x2="263.30" y2="163.20" stroke="#1a1a1a" stroke-width="1.215" />
<text x="263.30" y="169.90" font-size="6.1" text-anchor="middle" fill="#1a1a1a" stroke="#1a1a1a" stroke-width="0.09">0</text>
<line x1="278.50" y1="160.20" x2="278.50" y2="163.20" stroke="#1a1a1a" stroke-width="1.215" />
<text x="278.50" y="169.90" font-size="6.1" text-anchor="middle" fill="#1a1a1a" stroke="#1a1a1a" stroke-width="0.09">10</text>
<line x1="293.70" y1="160.20" x2="293.70" y2="163.20" stroke="#1a1a1a" stroke-width="1.215" />
<text x="293.70" y="169.90" font-size="6.1" text-anchor="middle" fill="#1a1a1a" stroke="#1a1a1a" stroke-width="0.09">20</text>
<line x1="308.90" y1="160.20" x2="308.90" y2="163.20" stroke="#1a1a1a" stroke-width="1.215" />
<text x="308.90" y="169.90" font-size="6.1" text-anchor="middle" fill="#1a1a1a" stroke="#1a1a1a" stroke-width="0.09">30</text>
<line x1="324.10" y1="160.20" x2="324.10" y2="163.20" stroke="#1a1a1a" stroke-width="1.215" />
<text x="324.10" y="169.90" font-size="6.1" text-anchor="middle" fill="#1a1a1a" stroke="#1a1a1a" stroke-width="0.09">40</text>
<line x1="339.30" y1="160.20" x2="339.30" y2="163.20" stroke="#1a1a1a" stroke-width="1.215" />
<text x="339.30" y="169.90" font-size="6.1" text-anchor="middle" fill="#1a1a1a" stroke="#1a1a1a" stroke-width="0.09">50</text>
<text x="301.40" y="179.40" font-size="6.4" text-anchor="middle" fill="#1a1a1a" stroke="#1a1a1a" stroke-width="0.18" textLength="43.9" lengthAdjust="spacingAndGlyphs">Days post treatment</text>
<text x="243.60" y="135.30" font-size="6.5" text-anchor="middle" fill="#1a1a1a" stroke="#1a1a1a" stroke-width="0.18" textLength="23.8" lengthAdjust="spacingAndGlyphs" transform="rotate(-90 243.60 135.30)">% survival</text>
<line x1="337.60" y1="112.40" x2="342.40" y2="112.40" stroke="#c60a2c" stroke-width="1.4" />
<circle cx="340.0" cy="112.20" r="1.0" fill="#c60a2c"/>
<text x="345.90" y="114.40" font-size="5.6" text-anchor="start" fill="#1a1a1a" stroke="#1a1a1a" stroke-width="0.09" textLength="11.0" lengthAdjust="spacingAndGlyphs">IgG4</text>
<line x1="337.60" y1="118.30" x2="342.40" y2="118.30" stroke="#0a407f" stroke-width="1.4" stroke-dasharray="1.4,0.7"/>
<circle cx="340.0" cy="118.10" r="1.0" fill="#0a407f"/>
<text x="346.10" y="120.30" font-size="5.6" text-anchor="start" fill="#1a1a1a" stroke="#1a1a1a" stroke-width="0.09" textLength="24.6" lengthAdjust="spacingAndGlyphs">TTI-CD200</text>
<polyline points="331.85,114.75 332.61,114.75 332.61,130.20 338.24,130.20 338.24,160.20" fill="none" stroke="#0a407f" stroke-width="1.45" stroke-dasharray="1.8,1.0"/>
<polyline points="263.30,114.75 331.85,114.75 331.85,160.20" fill="none" stroke="#c60a2c" stroke-width="1.45" />
<line x1="286.25" y1="113.15" x2="286.25" y2="114.75" stroke="#c60a2c" stroke-width="0.9" />
<line x1="404.10" y1="161.80" x2="404.10" y2="109.30" stroke="#1a1a1a" stroke-width="1.35" />
<line x1="404.10" y1="159.10" x2="478.00" y2="159.10" stroke="#1a1a1a" stroke-width="1.35" />
<line x1="401.10" y1="159.10" x2="404.10" y2="159.10" stroke="#1a1a1a" stroke-width="1.215" />
<text x="399.00" y="161.25" font-size="6.1" text-anchor="end" fill="#1a1a1a" stroke="#1a1a1a" stroke-width="0.09">0</text>
<line x1="401.10" y1="149.14" x2="404.10" y2="149.14" stroke="#1a1a1a" stroke-width="1.215" />
<text x="399.00" y="151.29" font-size="6.1" text-anchor="end" fill="#1a1a1a" stroke="#1a1a1a" stroke-width="0.09">20</text>
<line x1="401.10" y1="139.18" x2="404.10" y2="139.18" stroke="#1a1a1a" stroke-width="1.215" />
<text x="399.00" y="141.33" font-size="6.1" text-anchor="end" fill="#1a1a1a" stroke="#1a1a1a" stroke-width="0.09">40</text>
<line x1="401.10" y1="129.22" x2="404.10" y2="129.22" stroke="#1a1a1a" stroke-width="1.215" />
<text x="399.00" y="131.37" font-size="6.1" text-anchor="end" fill="#1a1a1a" stroke="#1a1a1a" stroke-width="0.09">60</text>
<line x1="401.10" y1="119.26" x2="404.10" y2="119.26" stroke="#1a1a1a" stroke-width="1.215" />
<text x="399.00" y="121.41" font-size="6.1" text-anchor="end" fill="#1a1a1a" stroke="#1a1a1a" stroke-width="0.09">80</text>
<line x1="401.10" y1="109.30" x2="404.10" y2="109.30" stroke="#1a1a1a" stroke-width="1.215" />
<text x="399.00" y="111.45" font-size="6.1" text-anchor="end" fill="#1a1a1a" stroke="#1a1a1a" stroke-width="0.09">100</text>
<line x1="402.10" y1="154.12" x2="404.10" y2="154.12" stroke="#1a1a1a" stroke-width="1.08" />
<line x1="402.10" y1="144.16" x2="404.10" y2="144.16" stroke="#1a1a1a" stroke-width="1.08" />
<line x1="402.10" y1="134.20" x2="404.10" y2="134.20" stroke="#1a1a1a" stroke-width="1.08" />
<line x1="402.10" y1="124.24" x2="404.10" y2="124.24" stroke="#1a1a1a" stroke-width="1.08" />
<line x1="402.10" y1="114.28" x2="404.10" y2="114.28" stroke="#1a1a1a" stroke-width="1.08" />
<line x1="422.60" y1="159.10" x2="422.60" y2="161.60" stroke="#1a1a1a" stroke-width="1.215" />
<line x1="459.70" y1="159.10" x2="459.70" y2="161.60" stroke="#1a1a1a" stroke-width="1.215" />
<text x="421.80" y="168.80" font-size="6.5" text-anchor="middle" fill="#1a1a1a" stroke="#1a1a1a" stroke-width="0.09" textLength="17.8" lengthAdjust="spacingAndGlyphs">CD10<tspan font-size="3.4" dy="-3.0">+</tspan></text>
<text x="459.40" y="168.80" font-size="6.5" text-anchor="middle" fill="#1a1a1a" stroke="#1a1a1a" stroke-width="0.09" textLength="22.0" lengthAdjust="spacingAndGlyphs">CD200<tspan font-size="3.4" dy="-3.0">+</tspan></text>
<text x="383.40" y="133.90" font-size="6.9" text-anchor="middle" fill="#1a1a1a" stroke="#1a1a1a" stroke-width="0.18" textLength="35.0" lengthAdjust="spacingAndGlyphs" transform="rotate(-90 383.40 133.90)">Proportion (%)</text>
<circle cx="415.75" cy="121.80" r="1.45" fill="#c60a2c"/>
<circle cx="413.55" cy="126.78" r="1.45" fill="#c60a2c"/>
<circle cx="417.45" cy="127.48" r="1.45" fill="#c60a2c"/>
<circle cx="415.75" cy="141.92" r="1.45" fill="#c60a2c"/>
<line x1="415.75" y1="121.00" x2="415.75" y2="137.69" stroke="#1a1a1a" stroke-width="1.0" />
<line x1="413.35" y1="121.00" x2="418.15" y2="121.00" stroke="#1a1a1a" stroke-width="1.0" />
<line x1="413.35" y1="137.69" x2="418.15" y2="137.69" stroke="#1a1a1a" stroke-width="1.0" />
<line x1="410.95" y1="129.42" x2="420.55" y2="129.42" stroke="#1a1a1a" stroke-width="1.1" />
<circle cx="427.55" cy="143.91" r="1.45" fill="#0a407f"/>
<circle cx="431.35" cy="145.70" r="1.45" fill="#0a407f"/>
<circle cx="429.45" cy="138.08" r="1.45" fill="#0a407f"/>
<circle cx="429.45" cy="159.10" r="1.45" fill="#0a407f"/>
<line x1="429.45" y1="138.08" x2="429.45" y2="155.22" stroke="#1a1a1a" stroke-width="1.0" />
<line x1="427.05" y1="138.08" x2="431.85" y2="138.08" stroke="#1a1a1a" stroke-width="1.0" />
<line x1="427.05" y1="155.22" x2="431.85" y2="155.22" stroke="#1a1a1a" stroke-width="1.0" />
<line x1="424.65" y1="146.70" x2="434.25" y2="146.70" stroke="#1a1a1a" stroke-width="1.1" />
<circle cx="452.90" cy="121.30" r="1.45" fill="#c60a2c"/>
<circle cx="452.90" cy="124.89" r="1.45" fill="#c60a2c"/>
<circle cx="452.90" cy="129.62" r="1.45" fill="#c60a2c"/>
<circle cx="452.90" cy="142.82" r="1.45" fill="#c60a2c"/>
<line x1="452.90" y1="120.55" x2="452.90" y2="139.18" stroke="#1a1a1a" stroke-width="1.0" />
<line x1="450.50" y1="120.55" x2="455.30" y2="120.55" stroke="#1a1a1a" stroke-width="1.0" />
<line x1="450.50" y1="139.18" x2="455.30" y2="139.18" stroke="#1a1a1a" stroke-width="1.0" />
<line x1="448.10" y1="129.62" x2="457.70" y2="129.62" stroke="#1a1a1a" stroke-width="1.1" />
<circle cx="466.35" cy="115.92" r="1.45" fill="#0a407f"/>
<circle cx="466.35" cy="139.98" r="1.45" fill="#0a407f"/>
<circle cx="464.85" cy="159.10" r="1.45" fill="#0a407f"/>
<circle cx="467.85" cy="159.10" r="1.45" fill="#0a407f"/>
<line x1="466.35" y1="123.19" x2="466.35" y2="159.10" stroke="#1a1a1a" stroke-width="1.0" />
<line x1="463.95" y1="123.19" x2="468.75" y2="123.19" stroke="#1a1a1a" stroke-width="1.0" />
<line x1="463.95" y1="159.10" x2="468.75" y2="159.10" stroke="#1a1a1a" stroke-width="1.0" />
<line x1="461.55" y1="143.11" x2="471.15" y2="143.11" stroke="#1a1a1a" stroke-width="1.1" />
<polyline points="415.90,113.30 415.90,111.50 429.90,111.50 429.90,113.30" fill="none" stroke="#1a1a1a" stroke-width="1.0"/>
<rect x="422.20" y="107.40" width="1.4" height="1.4" rx="0.3" fill="#1a1a1a"/>
<circle cx="484.0" cy="117.30" r="1.1" fill="#c60a2c"/>
<text x="487.90" y="119.30" font-size="5.6" text-anchor="start" fill="#1a1a1a" stroke="#1a1a1a" stroke-width="0.09" textLength="11.0" lengthAdjust="spacingAndGlyphs">IgG4</text>
<circle cx="484.0" cy="123.00" r="1.1" fill="#0a407f"/>
<text x="488.00" y="125.00" font-size="5.6" text-anchor="start" fill="#1a1a1a" stroke="#1a1a1a" stroke-width="0.09" textLength="24.6" lengthAdjust="spacingAndGlyphs">TTI-CD200</text>
<rect x="44.46" y="196.80" width="5.91" height="47.30" fill="#c3c3c7"/>
<line x1="43.75" y1="244.70" x2="43.75" y2="196.80" stroke="#1a1a1a" stroke-width="1.35" />
<line x1="43.15" y1="244.10" x2="115.00" y2="244.10" stroke="#1a1a1a" stroke-width="1.35" />
<line x1="40.75" y1="244.10" x2="43.75" y2="244.10" stroke="#1a1a1a" stroke-width="1.215" />
<text x="38.75" y="246.25" font-size="6.1" text-anchor="end" fill="#1a1a1a" stroke="#1a1a1a" stroke-width="0.09">0</text>
<line x1="40.75" y1="234.64" x2="43.75" y2="234.64" stroke="#1a1a1a" stroke-width="1.215" />
<text x="38.75" y="236.79" font-size="6.1" text-anchor="end" fill="#1a1a1a" stroke="#1a1a1a" stroke-width="0.09">20</text>
<line x1="40.75" y1="225.18" x2="43.75" y2="225.18" stroke="#1a1a1a" stroke-width="1.215" />
<text x="38.75" y="227.33" font-size="6.1" text-anchor="end" fill="#1a1a1a" stroke="#1a1a1a" stroke-width="0.09">40</text>
<line x1="40.75" y1="215.72" x2="43.75" y2="215.72" stroke="#1a1a1a" stroke-width="1.215" />
<text x="38.75" y="217.87" font-size="6.1" text-anchor="end" fill="#1a1a1a" stroke="#1a1a1a" stroke-width="0.09">60</text>
<line x1="40.75" y1="206.26" x2="43.75" y2="206.26" stroke="#1a1a1a" stroke-width="1.215" />
<text x="38.75" y="208.41" font-size="6.1" text-anchor="end" fill="#1a1a1a" stroke="#1a1a1a" stroke-width="0.09">80</text>
<line x1="40.75" y1="196.80" x2="43.75" y2="196.80" stroke="#1a1a1a" stroke-width="1.215" />
<text x="38.75" y="198.95" font-size="6.1" text-anchor="end" fill="#1a1a1a" stroke="#1a1a1a" stroke-width="0.09">100</text>
<line x1="43.75" y1="244.10" x2="43.75" y2="247.10" stroke="#1a1a1a" stroke-width="1.215" />
<text x="43.75" y="253.80" font-size="6.1" text-anchor="middle" fill="#1a1a1a" stroke="#1a1a1a" stroke-width="0.09">0</text>
<line x1="58.00" y1="244.10" x2="58.00" y2="247.10" stroke="#1a1a1a" stroke-width="1.215" />
<text x="58.00" y="253.80" font-size="6.1" text-anchor="middle" fill="#1a1a1a" stroke="#1a1a1a" stroke-width="0.09">20</text>
<line x1="72.25" y1="244.10" x2="72.25" y2="247.10" stroke="#1a1a1a" stroke-width="1.215" />
<text x="72.25" y="253.80" font-size="6.1" text-anchor="middle" fill="#1a1a1a" stroke="#1a1a1a" stroke-width="0.09">40</text>
<line x1="86.50" y1="244.10" x2="86.50" y2="247.10" stroke="#1a1a1a" stroke-width="1.215" />
<text x="86.50" y="253.80" font-size="6.1" text-anchor="middle" fill="#1a1a1a" stroke="#1a1a1a" stroke-width="0.09">60</text>
<line x1="100.75" y1="244.10" x2="100.75" y2="247.10" stroke="#1a1a1a" stroke-width="1.215" />
<text x="100.75" y="253.80" font-size="6.1" text-anchor="middle" fill="#1a1a1a" stroke="#1a1a1a" stroke-width="0.09">80</text>
<line x1="115.00" y1="244.10" x2="115.00" y2="247.10" stroke="#1a1a1a" stroke-width="1.215" />
<text x="115.00" y="253.80" font-size="6.1" text-anchor="middle" fill="#1a1a1a" stroke="#1a1a1a" stroke-width="0.09">100</text>
<text x="80.20" y="263.30" font-size="6.4" text-anchor="middle" fill="#1a1a1a" stroke="#1a1a1a" stroke-width="0.18" textLength="43.9" lengthAdjust="spacingAndGlyphs">Days post treatment</text>
<text x="23.60" y="217.55" font-size="6.9" text-anchor="middle" fill="#1a1a1a" stroke="#1a1a1a" stroke-width="0.18" textLength="43.0" lengthAdjust="spacingAndGlyphs" transform="rotate(-90 23.60 217.55)">% of leukemia cells</text>
<text x="15.00" y="217.40" font-size="8.0" text-anchor="middle" fill="#1a1a1a" stroke="#1a1a1a" stroke-width="0.3" textLength="12.8" lengthAdjust="spacingAndGlyphs" transform="rotate(-90 15.00 217.40)">Pt. S3</text>
<polyline points="43.75,244.10 48.74,243.63 55.86,243.39 63.70,243.63 72.25,244.10 77.24,243.39 82.22,241.73 87.21,238.90 96.47,229.44 105.74,208.15" fill="none" stroke="#0a407f" stroke-width="1.45" stroke-linejoin="round" stroke-dasharray="1.9,0.9"/>
<circle cx="43.75" cy="244.10" r="1.4" fill="#0a407f"/>
<circle cx="48.74" cy="243.63" r="1.4" fill="#0a407f"/>
<circle cx="55.86" cy="243.39" r="1.4" fill="#0a407f"/>
<circle cx="63.70" cy="243.63" r="1.4" fill="#0a407f"/>
<circle cx="72.25" cy="244.10" r="1.4" fill="#0a407f"/>
<circle cx="77.24" cy="243.39" r="1.4" fill="#0a407f"/>
<circle cx="82.22" cy="241.73" r="1.4" fill="#0a407f"/>
<circle cx="87.21" cy="238.90" r="1.4" fill="#0a407f"/>
<circle cx="96.47" cy="229.44" r="1.4" fill="#0a407f"/>
<circle cx="105.74" cy="208.15" r="1.4" fill="#0a407f"/>
<polyline points="43.75,244.10 55.86,243.63 72.25,244.10 77.24,243.63 82.22,242.21 87.21,240.32 91.49,238.42 96.47,233.69 105.74,221.87 111.44,210.99" fill="none" stroke="#0a407f" stroke-width="1.45" stroke-linejoin="round" stroke-dasharray="1.9,0.9"/>
<circle cx="43.75" cy="244.10" r="1.4" fill="#0a407f"/>
<circle cx="55.86" cy="243.63" r="1.4" fill="#0a407f"/>
<circle cx="72.25" cy="244.10" r="1.4" fill="#0a407f"/>
<circle cx="77.24" cy="243.63" r="1.4" fill="#0a407f"/>
<circle cx="82.22" cy="242.21" r="1.4" fill="#0a407f"/>
<circle cx="87.21" cy="240.32" r="1.4" fill="#0a407f"/>
<circle cx="91.49" cy="238.42" r="1.4" fill="#0a407f"/>
<circle cx="96.47" cy="233.69" r="1.4" fill="#0a407f"/>
<circle cx="105.74" cy="221.87" r="1.4" fill="#0a407f"/>
<circle cx="111.44" cy="210.99" r="1.4" fill="#0a407f"/>
<polyline points="43.75,244.10 72.25,244.10 82.22,242.68 87.21,241.26 91.49,239.37 96.47,237.95 111.44,212.88" fill="none" stroke="#0a407f" stroke-width="1.45" stroke-linejoin="round" stroke-dasharray="1.9,0.9"/>
<circle cx="43.75" cy="244.10" r="1.4" fill="#0a407f"/>
<circle cx="72.25" cy="244.10" r="1.4" fill="#0a407f"/>
<circle cx="82.22" cy="242.68" r="1.4" fill="#0a407f"/>
<circle cx="87.21" cy="241.26" r="1.4" fill="#0a407f"/>
<circle cx="91.49" cy="239.37" r="1.4" fill="#0a407f"/>
<circle cx="96.47" cy="237.95" r="1.4" fill="#0a407f"/>
<circle cx="111.44" cy="212.88" r="1.4" fill="#0a407f"/>
<polyline points="43.75,244.10 48.74,242.68 55.86,243.15 63.70,242.21 68.69,237.00 77.24,231.33 82.22,222.81 88.64,207.21" fill="none" stroke="#c60a2c" stroke-width="1.45" stroke-linejoin="round" />
<circle cx="43.75" cy="244.10" r="1.4" fill="#c60a2c"/>
<circle cx="48.74" cy="242.68" r="1.4" fill="#c60a2c"/>
<circle cx="55.86" cy="243.15" r="1.4" fill="#c60a2c"/>
<circle cx="63.70" cy="242.21" r="1.4" fill="#c60a2c"/>
<circle cx="68.69" cy="237.00" r="1.4" fill="#c60a2c"/>
<circle cx="77.24" cy="231.33" r="1.4" fill="#c60a2c"/>
<circle cx="82.22" cy="222.81" r="1.4" fill="#c60a2c"/>
<circle cx="88.64" cy="207.21" r="1.4" fill="#c60a2c"/>
<polyline points="43.75,244.10 48.74,243.15 55.86,243.63 63.70,242.68 68.69,238.42 77.24,234.64 82.22,232.28 88.64,218.09" fill="none" stroke="#c60a2c" stroke-width="1.45" stroke-linejoin="round" />
<circle cx="43.75" cy="244.10" r="1.4" fill="#c60a2c"/>
<circle cx="48.74" cy="243.15" r="1.4" fill="#c60a2c"/>
<circle cx="55.86" cy="243.63" r="1.4" fill="#c60a2c"/>
<circle cx="63.70" cy="242.68" r="1.4" fill="#c60a2c"/>
<circle cx="68.69" cy="238.42" r="1.4" fill="#c60a2c"/>
<circle cx="77.24" cy="234.64" r="1.4" fill="#c60a2c"/>
<circle cx="82.22" cy="232.28" r="1.4" fill="#c60a2c"/>
<circle cx="88.64" cy="218.09" r="1.4" fill="#c60a2c"/>
<polyline points="43.75,244.10 48.74,243.15 55.86,243.63 63.70,243.15 68.69,240.32 77.24,237.00 82.22,237.95 88.64,225.18 96.47,212.41" fill="none" stroke="#c60a2c" stroke-width="1.45" stroke-linejoin="round" />
<circle cx="43.75" cy="244.10" r="1.4" fill="#c60a2c"/>
<circle cx="48.74" cy="243.15" r="1.4" fill="#c60a2c"/>
<circle cx="55.86" cy="243.63" r="1.4" fill="#c60a2c"/>
<circle cx="63.70" cy="243.15" r="1.4" fill="#c60a2c"/>
<circle cx="68.69" cy="240.32" r="1.4" fill="#c60a2c"/>
<circle cx="77.24" cy="237.00" r="1.4" fill="#c60a2c"/>
<circle cx="82.22" cy="237.95" r="1.4" fill="#c60a2c"/>
<circle cx="88.64" cy="225.18" r="1.4" fill="#c60a2c"/>
<circle cx="96.47" cy="212.41" r="1.4" fill="#c60a2c"/>
<polyline points="43.75,244.10 48.74,243.63 63.70,243.15 68.69,241.26 77.24,238.42 82.22,237.00" fill="none" stroke="#c60a2c" stroke-width="1.45" stroke-linejoin="round" />
<circle cx="43.75" cy="244.10" r="1.4" fill="#c60a2c"/>
<circle cx="48.74" cy="243.63" r="1.4" fill="#c60a2c"/>
<circle cx="63.70" cy="243.15" r="1.4" fill="#c60a2c"/>
<circle cx="68.69" cy="241.26" r="1.4" fill="#c60a2c"/>
<circle cx="77.24" cy="238.42" r="1.4" fill="#c60a2c"/>
<circle cx="82.22" cy="237.00" r="1.4" fill="#c60a2c"/>
<rect x="75.35" y="202.65" width="1.5" height="1.5" rx="0.3" fill="#1a1a1a"/>
<rect x="75.35" y="200.15" width="1.5" height="1.5" rx="0.3" fill="#1a1a1a"/>
<rect x="81.55" y="202.65" width="1.5" height="1.5" rx="0.3" fill="#1a1a1a"/>
<rect x="81.55" y="200.15" width="1.5" height="1.5" rx="0.3" fill="#1a1a1a"/>
<rect x="81.55" y="197.65" width="1.5" height="1.5" rx="0.3" fill="#1a1a1a"/>
<rect x="88.45" y="202.65" width="1.5" height="1.5" rx="0.3" fill="#1a1a1a"/>
<rect x="88.45" y="200.15" width="1.5" height="1.5" rx="0.3" fill="#1a1a1a"/>
<rect x="88.45" y="197.65" width="1.5" height="1.5" rx="0.3" fill="#1a1a1a"/>
<rect x="88.45" y="195.15" width="1.5" height="1.5" rx="0.3" fill="#1a1a1a"/>
<rect x="95.85" y="202.65" width="1.5" height="1.5" rx="0.3" fill="#1a1a1a"/>
<rect x="95.85" y="200.15" width="1.5" height="1.5" rx="0.3" fill="#1a1a1a"/>
<rect x="95.85" y="197.65" width="1.5" height="1.5" rx="0.3" fill="#1a1a1a"/>
<rect x="95.85" y="195.15" width="1.5" height="1.5" rx="0.3" fill="#1a1a1a"/>
<rect x="149.50" y="192.09" width="6.24" height="52.31" fill="#c3c3c7"/>
<line x1="148.30" y1="245.00" x2="148.30" y2="192.09" stroke="#1a1a1a" stroke-width="1.35" />
<line x1="147.70" y1="244.40" x2="228.30" y2="244.40" stroke="#1a1a1a" stroke-width="1.35" />
<line x1="145.30" y1="244.40" x2="148.30" y2="244.40" stroke="#1a1a1a" stroke-width="1.215" />
<text x="143.30" y="246.55" font-size="6.1" text-anchor="end" fill="#1a1a1a" stroke="#1a1a1a" stroke-width="0.09">0</text>
<line x1="145.30" y1="232.78" x2="148.30" y2="232.78" stroke="#1a1a1a" stroke-width="1.215" />
<text x="143.30" y="234.93" font-size="6.1" text-anchor="end" fill="#1a1a1a" stroke="#1a1a1a" stroke-width="0.09">10</text>
<line x1="145.30" y1="221.15" x2="148.30" y2="221.15" stroke="#1a1a1a" stroke-width="1.215" />
<text x="143.30" y="223.30" font-size="6.1" text-anchor="end" fill="#1a1a1a" stroke="#1a1a1a" stroke-width="0.09">20</text>
<line x1="145.30" y1="209.53" x2="148.30" y2="209.53" stroke="#1a1a1a" stroke-width="1.215" />
<text x="143.30" y="211.68" font-size="6.1" text-anchor="end" fill="#1a1a1a" stroke="#1a1a1a" stroke-width="0.09">30</text>
<line x1="145.30" y1="197.90" x2="148.30" y2="197.90" stroke="#1a1a1a" stroke-width="1.215" />
<text x="143.30" y="200.05" font-size="6.1" text-anchor="end" fill="#1a1a1a" stroke="#1a1a1a" stroke-width="0.09">40</text>
<line x1="148.30" y1="244.40" x2="148.30" y2="247.40" stroke="#1a1a1a" stroke-width="1.215" />
<text x="148.30" y="254.10" font-size="6.1" text-anchor="middle" fill="#1a1a1a" stroke="#1a1a1a" stroke-width="0.09">0</text>
<line x1="164.30" y1="244.40" x2="164.30" y2="247.40" stroke="#1a1a1a" stroke-width="1.215" />
<text x="164.30" y="254.10" font-size="6.1" text-anchor="middle" fill="#1a1a1a" stroke="#1a1a1a" stroke-width="0.09">10</text>
<line x1="180.30" y1="244.40" x2="180.30" y2="247.40" stroke="#1a1a1a" stroke-width="1.215" />
<text x="180.30" y="254.10" font-size="6.1" text-anchor="middle" fill="#1a1a1a" stroke="#1a1a1a" stroke-width="0.09">40</text>
<line x1="196.30" y1="244.40" x2="196.30" y2="247.40" stroke="#1a1a1a" stroke-width="1.215" />
<text x="196.30" y="254.10" font-size="6.1" text-anchor="middle" fill="#1a1a1a" stroke="#1a1a1a" stroke-width="0.09">60</text>
<line x1="212.30" y1="244.40" x2="212.30" y2="247.40" stroke="#1a1a1a" stroke-width="1.215" />
<text x="212.30" y="254.10" font-size="6.1" text-anchor="middle" fill="#1a1a1a" stroke="#1a1a1a" stroke-width="0.09">80</text>
<line x1="228.30" y1="244.40" x2="228.30" y2="247.40" stroke="#1a1a1a" stroke-width="1.215" />
<text x="228.30" y="254.10" font-size="6.1" text-anchor="middle" fill="#1a1a1a" stroke="#1a1a1a" stroke-width="0.09">100</text>
<text x="185.00" y="262.40" font-size="6.4" text-anchor="middle" fill="#1a1a1a" stroke="#1a1a1a" stroke-width="0.18" textLength="43.9" lengthAdjust="spacingAndGlyphs">Days post treatment</text>
<text x="131.90" y="218.60" font-size="6.7" text-anchor="middle" fill="#1a1a1a" stroke="#1a1a1a" stroke-width="0.18" textLength="55.2" lengthAdjust="spacingAndGlyphs" transform="rotate(-90 131.90 218.60)">CD200<tspan font-size="4.2" dy="-2.3">+</tspan><tspan dy="2.3"> engraftment (%)</tspan></text>
<polyline points="148.30,243.82 156.30,243.24 164.30,242.66 176.30,242.08 185.10,242.08 190.70,239.75 198.70,236.26 207.50,233.94 217.90,227.31 224.30,228.01" fill="none" stroke="#0a407f" stroke-width="1.45" stroke-linejoin="round" stroke-dasharray="1.9,0.9"/>
<circle cx="148.30" cy="243.82" r="1.4" fill="#0a407f"/>
<circle cx="156.30" cy="243.24" r="1.4" fill="#0a407f"/>
<circle cx="164.30" cy="242.66" r="1.4" fill="#0a407f"/>
<circle cx="176.30" cy="242.08" r="1.4" fill="#0a407f"/>
<circle cx="185.10" cy="242.08" r="1.4" fill="#0a407f"/>
<circle cx="190.70" cy="239.75" r="1.4" fill="#0a407f"/>
<circle cx="198.70" cy="236.26" r="1.4" fill="#0a407f"/>
<circle cx="207.50" cy="233.94" r="1.4" fill="#0a407f"/>
<circle cx="217.90" cy="227.31" r="1.4" fill="#0a407f"/>
<circle cx="224.30" cy="228.01" r="1.4" fill="#0a407f"/>
<polyline points="148.30,243.82 156.30,243.24 164.30,242.66 176.30,242.08 185.10,242.08 190.70,239.75 198.70,237.43 207.50,235.10 217.90,231.26 224.30,233.01" fill="none" stroke="#0a407f" stroke-width="1.45" stroke-linejoin="round" stroke-dasharray="1.9,0.9"/>
<circle cx="148.30" cy="243.82" r="1.4" fill="#0a407f"/>
<circle cx="156.30" cy="243.24" r="1.4" fill="#0a407f"/>
<circle cx="164.30" cy="242.66" r="1.4" fill="#0a407f"/>
<circle cx="176.30" cy="242.08" r="1.4" fill="#0a407f"/>
<circle cx="185.10" cy="242.08" r="1.4" fill="#0a407f"/>
<circle cx="190.70" cy="239.75" r="1.4" fill="#0a407f"/>
<circle cx="198.70" cy="237.43" r="1.4" fill="#0a407f"/>
<circle cx="207.50" cy="235.10" r="1.4" fill="#0a407f"/>
<circle cx="217.90" cy="231.26" r="1.4" fill="#0a407f"/>
<circle cx="224.30" cy="233.01" r="1.4" fill="#0a407f"/>
<polyline points="148.30,243.82 176.30,242.66 185.10,242.66 190.70,240.91 198.70,238.59 207.50,235.10 217.90,230.45" fill="none" stroke="#0a407f" stroke-width="1.45" stroke-linejoin="round" stroke-dasharray="1.9,0.9"/>
<circle cx="148.30" cy="243.82" r="1.4" fill="#0a407f"/>
<circle cx="176.30" cy="242.66" r="1.4" fill="#0a407f"/>
<circle cx="185.10" cy="242.66" r="1.4" fill="#0a407f"/>
<circle cx="190.70" cy="240.91" r="1.4" fill="#0a407f"/>
<circle cx="198.70" cy="238.59" r="1.4" fill="#0a407f"/>
<circle cx="207.50" cy="235.10" r="1.4" fill="#0a407f"/>
<circle cx="217.90" cy="230.45" r="1.4" fill="#0a407f"/>
<polyline points="148.30,243.82 156.30,243.24 168.30,242.08 176.30,229.64 185.10,223.71 190.70,209.53 198.70,197.44" fill="none" stroke="#c60a2c" stroke-width="1.45" stroke-linejoin="round" />
<circle cx="148.30" cy="243.82" r="1.4" fill="#c60a2c"/>
<circle cx="156.30" cy="243.24" r="1.4" fill="#c60a2c"/>
<circle cx="168.30" cy="242.08" r="1.4" fill="#c60a2c"/>
<circle cx="176.30" cy="229.64" r="1.4" fill="#c60a2c"/>
<circle cx="185.10" cy="223.71" r="1.4" fill="#c60a2c"/>
<circle cx="190.70" cy="209.53" r="1.4" fill="#c60a2c"/>
<circle cx="198.70" cy="197.44" r="1.4" fill="#c60a2c"/>
<polyline points="148.30,243.82 168.30,242.08 176.30,232.78 185.10,229.29 190.70,230.80 198.70,211.85" fill="none" stroke="#c60a2c" stroke-width="1.45" stroke-linejoin="round" />
<circle cx="148.30" cy="243.82" r="1.4" fill="#c60a2c"/>
<circle cx="168.30" cy="242.08" r="1.4" fill="#c60a2c"/>
<circle cx="176.30" cy="232.78" r="1.4" fill="#c60a2c"/>
<circle cx="185.10" cy="229.29" r="1.4" fill="#c60a2c"/>
<circle cx="190.70" cy="230.80" r="1.4" fill="#c60a2c"/>
<circle cx="198.70" cy="211.85" r="1.4" fill="#c60a2c"/>
<polyline points="148.30,243.82 168.30,242.08 176.30,235.56 185.10,232.78 190.70,232.08 198.70,220.22" fill="none" stroke="#c60a2c" stroke-width="1.45" stroke-linejoin="round" />
<circle cx="148.30" cy="243.82" r="1.4" fill="#c60a2c"/>
<circle cx="168.30" cy="242.08" r="1.4" fill="#c60a2c"/>
<circle cx="176.30" cy="235.56" r="1.4" fill="#c60a2c"/>
<circle cx="185.10" cy="232.78" r="1.4" fill="#c60a2c"/>
<circle cx="190.70" cy="232.08" r="1.4" fill="#c60a2c"/>
<circle cx="198.70" cy="220.22" r="1.4" fill="#c60a2c"/>
<rect x="176.35" y="192.65" width="1.5" height="1.5" rx="0.3" fill="#1a1a1a"/>
<rect x="176.35" y="190.15" width="1.5" height="1.5" rx="0.3" fill="#1a1a1a"/>
<rect x="183.95" y="192.65" width="1.5" height="1.5" rx="0.3" fill="#1a1a1a"/>
<rect x="183.95" y="190.15" width="1.5" height="1.5" rx="0.3" fill="#1a1a1a"/>
<rect x="189.75" y="192.65" width="1.5" height="1.5" rx="0.3" fill="#1a1a1a"/>
<rect x="189.75" y="190.15" width="1.5" height="1.5" rx="0.3" fill="#1a1a1a"/>
<rect x="189.75" y="187.65" width="1.5" height="1.5" rx="0.3" fill="#1a1a1a"/>
<rect x="189.75" y="185.15" width="1.5" height="1.5" rx="0.3" fill="#1a1a1a"/>
<rect x="197.55" y="192.65" width="1.5" height="1.5" rx="0.3" fill="#1a1a1a"/>
<rect x="197.55" y="190.15" width="1.5" height="1.5" rx="0.3" fill="#1a1a1a"/>
<rect x="197.55" y="187.65" width="1.5" height="1.5" rx="0.3" fill="#1a1a1a"/>
<rect x="197.55" y="185.15" width="1.5" height="1.5" rx="0.3" fill="#1a1a1a"/>
<line x1="263.30" y1="244.60" x2="263.30" y2="193.40" stroke="#1a1a1a" stroke-width="1.35" />
<line x1="262.70" y1="244.00" x2="339.14" y2="244.00" stroke="#1a1a1a" stroke-width="1.35" />
<line x1="260.30" y1="244.00" x2="263.30" y2="244.00" stroke="#1a1a1a" stroke-width="1.215" />
<text x="258.30" y="246.15" font-size="6.1" text-anchor="end" fill="#1a1a1a" stroke="#1a1a1a" stroke-width="0.09">0</text>
<line x1="260.30" y1="232.50" x2="263.30" y2="232.50" stroke="#1a1a1a" stroke-width="1.215" />
<text x="258.30" y="234.65" font-size="6.1" text-anchor="end" fill="#1a1a1a" stroke="#1a1a1a" stroke-width="0.09">25</text>
<line x1="260.30" y1="221.00" x2="263.30" y2="221.00" stroke="#1a1a1a" stroke-width="1.215" />
<text x="258.30" y="223.15" font-size="6.1" text-anchor="end" fill="#1a1a1a" stroke="#1a1a1a" stroke-width="0.09">50</text>
<line x1="260.30" y1="209.50" x2="263.30" y2="209.50" stroke="#1a1a1a" stroke-width="1.215" />
<text x="258.30" y="211.65" font-size="6.1" text-anchor="end" fill="#1a1a1a" stroke="#1a1a1a" stroke-width="0.09">75</text>
<line x1="260.30" y1="198.00" x2="263.30" y2="198.00" stroke="#1a1a1a" stroke-width="1.215" />
<text x="258.30" y="200.15" font-size="6.1" text-anchor="end" fill="#1a1a1a" stroke="#1a1a1a" stroke-width="0.09">100</text>
<line x1="261.50" y1="241.70" x2="263.30" y2="241.70" stroke="#1a1a1a" stroke-width="1.08" />
<line x1="261.50" y1="239.40" x2="263.30" y2="239.40" stroke="#1a1a1a" stroke-width="1.08" />
<line x1="261.50" y1="237.10" x2="263.30" y2="237.10" stroke="#1a1a1a" stroke-width="1.08" />
<line x1="261.50" y1="234.80" x2="263.30" y2="234.80" stroke="#1a1a1a" stroke-width="1.08" />
<line x1="261.50" y1="230.20" x2="263.30" y2="230.20" stroke="#1a1a1a" stroke-width="1.08" />
<line x1="261.50" y1="227.90" x2="263.30" y2="227.90" stroke="#1a1a1a" stroke-width="1.08" />
<line x1="261.50" y1="225.60" x2="263.30" y2="225.60" stroke="#1a1a1a" stroke-width="1.08" />
<line x1="261.50" y1="223.30" x2="263.30" y2="223.30" stroke="#1a1a1a" stroke-width="1.08" />
<line x1="261.50" y1="218.70" x2="263.30" y2="218.70" stroke="#1a1a1a" stroke-width="1.08" />
<line x1="261.50" y1="216.40" x2="263.30" y2="216.40" stroke="#1a1a1a" stroke-width="1.08" />
<line x1="261.50" y1="214.10" x2="263.30" y2="214.10" stroke="#1a1a1a" stroke-width="1.08" />
<line x1="261.50" y1="211.80" x2="263.30" y2="211.80" stroke="#1a1a1a" stroke-width="1.08" />
<line x1="261.50" y1="207.20" x2="263.30" y2="207.20" stroke="#1a1a1a" stroke-width="1.08" />
<line x1="261.50" y1="204.90" x2="263.30" y2="204.90" stroke="#1a1a1a" stroke-width="1.08" />
<line x1="261.50" y1="202.60" x2="263.30" y2="202.60" stroke="#1a1a1a" stroke-width="1.08" />
<line x1="261.50" y1="200.30" x2="263.30" y2="200.30" stroke="#1a1a1a" stroke-width="1.08" />
<line x1="263.30" y1="244.00" x2="263.30" y2="247.00" stroke="#1a1a1a" stroke-width="1.215" />
<text x="263.30" y="253.70" font-size="6.1" text-anchor="middle" fill="#1a1a1a" stroke="#1a1a1a" stroke-width="0.09">0</text>
<line x1="275.94" y1="244.00" x2="275.94" y2="247.00" stroke="#1a1a1a" stroke-width="1.215" />
<text x="275.94" y="253.70" font-size="6.1" text-anchor="middle" fill="#1a1a1a" stroke="#1a1a1a" stroke-width="0.09">20</text>
<line x1="288.58" y1="244.00" x2="288.58" y2="247.00" stroke="#1a1a1a" stroke-width="1.215" />
<text x="288.58" y="253.70" font-size="6.1" text-anchor="middle" fill="#1a1a1a" stroke="#1a1a1a" stroke-width="0.09">40</text>
<line x1="301.22" y1="244.00" x2="301.22" y2="247.00" stroke="#1a1a1a" stroke-width="1.215" />
<text x="301.22" y="253.70" font-size="6.1" text-anchor="middle" fill="#1a1a1a" stroke="#1a1a1a" stroke-width="0.09">60</text>
<line x1="313.86" y1="244.00" x2="313.86" y2="247.00" stroke="#1a1a1a" stroke-width="1.215" />
<text x="313.86" y="253.70" font-size="6.1" text-anchor="middle" fill="#1a1a1a" stroke="#1a1a1a" stroke-width="0.09">80</text>
<line x1="326.50" y1="244.00" x2="326.50" y2="247.00" stroke="#1a1a1a" stroke-width="1.215" />
<text x="326.50" y="253.70" font-size="6.1" text-anchor="middle" fill="#1a1a1a" stroke="#1a1a1a" stroke-width="0.09">100</text>
<line x1="339.14" y1="244.00" x2="339.14" y2="247.00" stroke="#1a1a1a" stroke-width="1.215" />
<text x="339.14" y="253.70" font-size="6.1" text-anchor="middle" fill="#1a1a1a" stroke="#1a1a1a" stroke-width="0.09">120</text>
<text x="301.40" y="263.20" font-size="6.4" text-anchor="middle" fill="#1a1a1a" stroke="#1a1a1a" stroke-width="0.18" textLength="43.9" lengthAdjust="spacingAndGlyphs">Days post treatment</text>
<text x="243.60" y="218.70" font-size="6.5" text-anchor="middle" fill="#1a1a1a" stroke="#1a1a1a" stroke-width="0.18" textLength="23.8" lengthAdjust="spacingAndGlyphs" transform="rotate(-90 243.60 218.70)">% survival</text>
<line x1="337.60" y1="196.00" x2="342.40" y2="196.00" stroke="#c60a2c" stroke-width="1.4" />
<circle cx="340.0" cy="195.80" r="1.0" fill="#c60a2c"/>
<text x="345.90" y="198.00" font-size="5.6" text-anchor="start" fill="#1a1a1a" stroke="#1a1a1a" stroke-width="0.09" textLength="11.0" lengthAdjust="spacingAndGlyphs">IgG4</text>
<line x1="337.60" y1="201.90" x2="342.40" y2="201.90" stroke="#0a407f" stroke-width="1.4" stroke-dasharray="1.4,0.7"/>
<circle cx="340.0" cy="201.70" r="1.0" fill="#0a407f"/>
<text x="346.10" y="203.90" font-size="5.6" text-anchor="start" fill="#1a1a1a" stroke="#1a1a1a" stroke-width="0.09" textLength="24.6" lengthAdjust="spacingAndGlyphs">TTI-CD200</text>
<text x="270.0" y="237.6" font-size="6.5" fill="#1a1a1a" stroke="#1a1a1a" stroke-width="0.12" textLength="20.5" lengthAdjust="spacingAndGlyphs"><tspan font-style="italic">P</tspan>=0.02</text>
<polyline points="304.82,198.00 318.41,198.00 318.41,213.18 323.72,213.18 323.72,244.00" fill="none" stroke="#0a407f" stroke-width="1.45" stroke-dasharray="1.8,1.0"/>
<polyline points="263.30,198.00 304.82,198.00 304.82,228.82 310.89,228.82 310.89,244.00" fill="none" stroke="#c60a2c" stroke-width="1.45" />
<line x1="404.10" y1="245.70" x2="404.10" y2="193.60" stroke="#1a1a1a" stroke-width="1.35" />
<line x1="404.10" y1="243.00" x2="478.00" y2="243.00" stroke="#1a1a1a" stroke-width="1.35" />
<line x1="401.10" y1="243.00" x2="404.10" y2="243.00" stroke="#1a1a1a" stroke-width="1.215" />
<text x="399.00" y="245.15" font-size="6.1" text-anchor="end" fill="#1a1a1a" stroke="#1a1a1a" stroke-width="0.09">0</text>
<line x1="401.10" y1="233.12" x2="404.10" y2="233.12" stroke="#1a1a1a" stroke-width="1.215" />
<text x="399.00" y="235.27" font-size="6.1" text-anchor="end" fill="#1a1a1a" stroke="#1a1a1a" stroke-width="0.09">20</text>
<line x1="401.10" y1="223.24" x2="404.10" y2="223.24" stroke="#1a1a1a" stroke-width="1.215" />
<text x="399.00" y="225.39" font-size="6.1" text-anchor="end" fill="#1a1a1a" stroke="#1a1a1a" stroke-width="0.09">40</text>
<line x1="401.10" y1="213.36" x2="404.10" y2="213.36" stroke="#1a1a1a" stroke-width="1.215" />
<text x="399.00" y="215.51" font-size="6.1" text-anchor="end" fill="#1a1a1a" stroke="#1a1a1a" stroke-width="0.09">60</text>
<line x1="401.10" y1="203.48" x2="404.10" y2="203.48" stroke="#1a1a1a" stroke-width="1.215" />
<text x="399.00" y="205.63" font-size="6.1" text-anchor="end" fill="#1a1a1a" stroke="#1a1a1a" stroke-width="0.09">80</text>
<line x1="401.10" y1="193.60" x2="404.10" y2="193.60" stroke="#1a1a1a" stroke-width="1.215" />
<text x="399.00" y="195.75" font-size="6.1" text-anchor="end" fill="#1a1a1a" stroke="#1a1a1a" stroke-width="0.09">100</text>
<line x1="402.10" y1="238.06" x2="404.10" y2="238.06" stroke="#1a1a1a" stroke-width="1.08" />
<line x1="402.10" y1="228.18" x2="404.10" y2="228.18" stroke="#1a1a1a" stroke-width="1.08" />
<line x1="402.10" y1="218.30" x2="404.10" y2="218.30" stroke="#1a1a1a" stroke-width="1.08" />
<line x1="402.10" y1="208.42" x2="404.10" y2="208.42" stroke="#1a1a1a" stroke-width="1.08" />
<line x1="402.10" y1="198.54" x2="404.10" y2="198.54" stroke="#1a1a1a" stroke-width="1.08" />
<line x1="420.90" y1="243.00" x2="420.90" y2="245.50" stroke="#1a1a1a" stroke-width="1.215" />
<line x1="460.40" y1="243.00" x2="460.40" y2="245.50" stroke="#1a1a1a" stroke-width="1.215" />
<text x="420.10" y="252.70" font-size="6.5" text-anchor="middle" fill="#1a1a1a" stroke="#1a1a1a" stroke-width="0.09" textLength="17.8" lengthAdjust="spacingAndGlyphs">CD10<tspan font-size="3.4" dy="-3.0">+</tspan></text>
<text x="460.10" y="252.70" font-size="6.5" text-anchor="middle" fill="#1a1a1a" stroke="#1a1a1a" stroke-width="0.09" textLength="22.0" lengthAdjust="spacingAndGlyphs">CD200<tspan font-size="3.4" dy="-3.0">+</tspan></text>
<text x="383.40" y="217.75" font-size="6.9" text-anchor="middle" fill="#1a1a1a" stroke="#1a1a1a" stroke-width="0.18" textLength="35.0" lengthAdjust="spacingAndGlyphs" transform="rotate(-90 383.40 217.75)">Proportion (%)</text>
<circle cx="413.80" cy="197.70" r="1.45" fill="#c60a2c"/>
<circle cx="413.80" cy="205.95" r="1.45" fill="#c60a2c"/>
<circle cx="413.80" cy="209.16" r="1.45" fill="#c60a2c"/>
<line x1="413.80" y1="198.39" x2="413.80" y2="209.80" stroke="#1a1a1a" stroke-width="1.0" />
<line x1="411.40" y1="198.39" x2="416.20" y2="198.39" stroke="#1a1a1a" stroke-width="1.0" />
<line x1="411.40" y1="209.80" x2="416.20" y2="209.80" stroke="#1a1a1a" stroke-width="1.0" />
<line x1="409.00" y1="204.12" x2="418.60" y2="204.12" stroke="#1a1a1a" stroke-width="1.1" />
<circle cx="428.50" cy="212.82" r="1.45" fill="#0a407f"/>
<circle cx="428.50" cy="218.89" r="1.45" fill="#0a407f"/>
<circle cx="428.50" cy="223.88" r="1.45" fill="#0a407f"/>
<line x1="428.50" y1="213.11" x2="428.50" y2="223.88" stroke="#1a1a1a" stroke-width="1.0" />
<line x1="426.10" y1="213.11" x2="430.90" y2="213.11" stroke="#1a1a1a" stroke-width="1.0" />
<line x1="426.10" y1="223.88" x2="430.90" y2="223.88" stroke="#1a1a1a" stroke-width="1.0" />
<line x1="423.70" y1="218.40" x2="433.30" y2="218.40" stroke="#1a1a1a" stroke-width="1.1" />
<circle cx="453.25" cy="199.82" r="1.45" fill="#c60a2c"/>
<circle cx="451.15" cy="210.20" r="1.45" fill="#c60a2c"/>
<circle cx="455.15" cy="208.72" r="1.45" fill="#c60a2c"/>
<line x1="453.25" y1="200.61" x2="453.25" y2="211.29" stroke="#1a1a1a" stroke-width="1.0" />
<line x1="450.85" y1="200.61" x2="455.65" y2="200.61" stroke="#1a1a1a" stroke-width="1.0" />
<line x1="450.85" y1="211.29" x2="455.65" y2="211.29" stroke="#1a1a1a" stroke-width="1.0" />
<line x1="448.45" y1="206.30" x2="458.05" y2="206.30" stroke="#1a1a1a" stroke-width="1.1" />
<circle cx="468.05" cy="212.92" r="1.45" fill="#0a407f"/>
<circle cx="468.05" cy="225.02" r="1.45" fill="#0a407f"/>
<circle cx="468.05" cy="226.70" r="1.45" fill="#0a407f"/>
<line x1="468.05" y1="213.61" x2="468.05" y2="227.29" stroke="#1a1a1a" stroke-width="1.0" />
<line x1="465.65" y1="213.61" x2="470.45" y2="213.61" stroke="#1a1a1a" stroke-width="1.0" />
<line x1="465.65" y1="227.29" x2="470.45" y2="227.29" stroke="#1a1a1a" stroke-width="1.0" />
<line x1="463.25" y1="220.82" x2="472.85" y2="220.82" stroke="#1a1a1a" stroke-width="1.1" />
<polyline points="413.10,192.20 413.10,190.40 427.00,190.40 427.00,192.20" fill="none" stroke="#1a1a1a" stroke-width="1.0"/>
<rect x="419.35" y="186.30" width="1.4" height="1.4" rx="0.3" fill="#1a1a1a"/>
<polyline points="452.60,192.30 452.60,190.50 466.30,190.50 466.30,192.30" fill="none" stroke="#1a1a1a" stroke-width="1.0"/>
<rect x="458.75" y="186.40" width="1.4" height="1.4" rx="0.3" fill="#1a1a1a"/>
<circle cx="484.0" cy="201.60" r="1.1" fill="#c60a2c"/>
<text x="487.90" y="203.60" font-size="5.6" text-anchor="start" fill="#1a1a1a" stroke="#1a1a1a" stroke-width="0.09" textLength="11.0" lengthAdjust="spacingAndGlyphs">IgG4</text>
<circle cx="484.0" cy="207.30" r="1.1" fill="#0a407f"/>
<text x="488.00" y="209.30" font-size="5.6" text-anchor="start" fill="#1a1a1a" stroke="#1a1a1a" stroke-width="0.09" textLength="24.6" lengthAdjust="spacingAndGlyphs">TTI-CD200</text>
<rect x="44.74" y="277.95" width="12.33" height="48.75" fill="#c3c3c7"/>
<line x1="43.85" y1="327.30" x2="43.85" y2="277.95" stroke="#1a1a1a" stroke-width="1.35" />
<line x1="43.25" y1="326.70" x2="118.10" y2="326.70" stroke="#1a1a1a" stroke-width="1.35" />
<line x1="40.85" y1="326.70" x2="43.85" y2="326.70" stroke="#1a1a1a" stroke-width="1.215" />
<text x="38.85" y="328.85" font-size="6.1" text-anchor="end" fill="#1a1a1a" stroke="#1a1a1a" stroke-width="0.09">0</text>
<line x1="40.85" y1="316.95" x2="43.85" y2="316.95" stroke="#1a1a1a" stroke-width="1.215" />
<text x="38.85" y="319.10" font-size="6.1" text-anchor="end" fill="#1a1a1a" stroke="#1a1a1a" stroke-width="0.09">20</text>
<line x1="40.85" y1="307.20" x2="43.85" y2="307.20" stroke="#1a1a1a" stroke-width="1.215" />
<text x="38.85" y="309.35" font-size="6.1" text-anchor="end" fill="#1a1a1a" stroke="#1a1a1a" stroke-width="0.09">40</text>
<line x1="40.85" y1="297.45" x2="43.85" y2="297.45" stroke="#1a1a1a" stroke-width="1.215" />
<text x="38.85" y="299.60" font-size="6.1" text-anchor="end" fill="#1a1a1a" stroke="#1a1a1a" stroke-width="0.09">60</text>
<line x1="40.85" y1="287.70" x2="43.85" y2="287.70" stroke="#1a1a1a" stroke-width="1.215" />
<text x="38.85" y="289.85" font-size="6.1" text-anchor="end" fill="#1a1a1a" stroke="#1a1a1a" stroke-width="0.09">80</text>
<line x1="40.85" y1="277.95" x2="43.85" y2="277.95" stroke="#1a1a1a" stroke-width="1.215" />
<text x="38.85" y="280.10" font-size="6.1" text-anchor="end" fill="#1a1a1a" stroke="#1a1a1a" stroke-width="0.09">100</text>
<line x1="43.85" y1="326.70" x2="43.85" y2="329.70" stroke="#1a1a1a" stroke-width="1.215" />
<text x="43.85" y="336.40" font-size="6.1" text-anchor="middle" fill="#1a1a1a" stroke="#1a1a1a" stroke-width="0.09">0</text>
<line x1="58.70" y1="326.70" x2="58.70" y2="329.70" stroke="#1a1a1a" stroke-width="1.215" />
<text x="58.70" y="336.40" font-size="6.1" text-anchor="middle" fill="#1a1a1a" stroke="#1a1a1a" stroke-width="0.09">10</text>
<line x1="73.55" y1="326.70" x2="73.55" y2="329.70" stroke="#1a1a1a" stroke-width="1.215" />
<text x="73.55" y="336.40" font-size="6.1" text-anchor="middle" fill="#1a1a1a" stroke="#1a1a1a" stroke-width="0.09">20</text>
<line x1="88.40" y1="326.70" x2="88.40" y2="329.70" stroke="#1a1a1a" stroke-width="1.215" />
<text x="88.40" y="336.40" font-size="6.1" text-anchor="middle" fill="#1a1a1a" stroke="#1a1a1a" stroke-width="0.09">30</text>
<line x1="103.25" y1="326.70" x2="103.25" y2="329.70" stroke="#1a1a1a" stroke-width="1.215" />
<text x="103.25" y="336.40" font-size="6.1" text-anchor="middle" fill="#1a1a1a" stroke="#1a1a1a" stroke-width="0.09">40</text>
<line x1="118.10" y1="326.70" x2="118.10" y2="329.70" stroke="#1a1a1a" stroke-width="1.215" />
<text x="118.10" y="336.40" font-size="6.1" text-anchor="middle" fill="#1a1a1a" stroke="#1a1a1a" stroke-width="0.09">50</text>
<text x="80.20" y="345.90" font-size="6.4" text-anchor="middle" fill="#1a1a1a" stroke="#1a1a1a" stroke-width="0.18" textLength="43.9" lengthAdjust="spacingAndGlyphs">Days post treatment</text>
<text x="23.60" y="302.35" font-size="6.9" text-anchor="middle" fill="#1a1a1a" stroke="#1a1a1a" stroke-width="0.18" textLength="43.0" lengthAdjust="spacingAndGlyphs" transform="rotate(-90 23.60 302.35)">% of leukemia cells</text>
<text x="15.00" y="303.00" font-size="8.0" text-anchor="middle" fill="#1a1a1a" stroke="#1a1a1a" stroke-width="0.3" textLength="12.8" lengthAdjust="spacingAndGlyphs" transform="rotate(-90 15.00 303.00)">Pt. S3</text>
<polyline points="43.85,326.70 52.02,326.21 57.66,324.26 66.12,322.80 76.97,318.17 94.34,290.62" fill="none" stroke="#c60a2c" stroke-width="1.25" stroke-linejoin="round" />
<circle cx="43.85" cy="326.70" r="1.3" fill="#c60a2c"/>
<circle cx="52.02" cy="326.21" r="1.3" fill="#c60a2c"/>
<circle cx="57.66" cy="324.26" r="1.3" fill="#c60a2c"/>
<circle cx="66.12" cy="322.80" r="1.3" fill="#c60a2c"/>
<circle cx="76.97" cy="318.17" r="1.3" fill="#c60a2c"/>
<circle cx="94.34" cy="290.62" r="1.3" fill="#c60a2c"/>
<polyline points="43.85,326.70 52.02,326.21 57.66,324.51 66.12,323.04 76.97,318.66 94.34,292.19" fill="none" stroke="#c60a2c" stroke-width="1.25" stroke-linejoin="round" />
<circle cx="43.85" cy="326.70" r="1.3" fill="#c60a2c"/>
<circle cx="52.02" cy="326.21" r="1.3" fill="#c60a2c"/>
<circle cx="57.66" cy="324.51" r="1.3" fill="#c60a2c"/>
<circle cx="66.12" cy="323.04" r="1.3" fill="#c60a2c"/>
<circle cx="76.97" cy="318.66" r="1.3" fill="#c60a2c"/>
<circle cx="94.34" cy="292.19" r="1.3" fill="#c60a2c"/>
<polyline points="43.85,326.70 52.02,326.21 57.66,324.75 66.12,323.29 76.97,319.14 94.34,294.38" fill="none" stroke="#c60a2c" stroke-width="1.25" stroke-linejoin="round" />
<circle cx="43.85" cy="326.70" r="1.3" fill="#c60a2c"/>
<circle cx="52.02" cy="326.21" r="1.3" fill="#c60a2c"/>
<circle cx="57.66" cy="324.75" r="1.3" fill="#c60a2c"/>
<circle cx="66.12" cy="323.29" r="1.3" fill="#c60a2c"/>
<circle cx="76.97" cy="319.14" r="1.3" fill="#c60a2c"/>
<circle cx="94.34" cy="294.38" r="1.3" fill="#c60a2c"/>
<polyline points="43.85,326.70 52.02,326.21 57.66,324.75 66.12,323.53 76.97,319.63 94.34,296.52" fill="none" stroke="#c60a2c" stroke-width="1.25" stroke-linejoin="round" />
<circle cx="43.85" cy="326.70" r="1.3" fill="#c60a2c"/>
<circle cx="52.02" cy="326.21" r="1.3" fill="#c60a2c"/>
<circle cx="57.66" cy="324.75" r="1.3" fill="#c60a2c"/>
<circle cx="66.12" cy="323.53" r="1.3" fill="#c60a2c"/>
<circle cx="76.97" cy="319.63" r="1.3" fill="#c60a2c"/>
<circle cx="94.34" cy="296.52" r="1.3" fill="#c60a2c"/>
<polyline points="43.85,326.70 52.02,326.21 57.66,324.99 66.12,323.77 76.97,320.12 94.34,301.40" fill="none" stroke="#c60a2c" stroke-width="1.25" stroke-linejoin="round" />
<circle cx="43.85" cy="326.70" r="1.3" fill="#c60a2c"/>
<circle cx="52.02" cy="326.21" r="1.3" fill="#c60a2c"/>
<circle cx="57.66" cy="324.99" r="1.3" fill="#c60a2c"/>
<circle cx="66.12" cy="323.77" r="1.3" fill="#c60a2c"/>
<circle cx="76.97" cy="320.12" r="1.3" fill="#c60a2c"/>
<circle cx="94.34" cy="301.40" r="1.3" fill="#c60a2c"/>
<polyline points="43.85,326.70 52.02,324.99 57.66,325.97 66.12,325.24 76.97,322.31 94.34,313.20 115.13,290.14" fill="none" stroke="#0a407f" stroke-width="1.45" stroke-linejoin="round" stroke-dasharray="1.9,0.9"/>
<circle cx="43.85" cy="326.70" r="1.4" fill="#0a407f"/>
<circle cx="52.02" cy="324.99" r="1.4" fill="#0a407f"/>
<circle cx="57.66" cy="325.97" r="1.4" fill="#0a407f"/>
<circle cx="66.12" cy="325.24" r="1.4" fill="#0a407f"/>
<circle cx="76.97" cy="322.31" r="1.4" fill="#0a407f"/>
<circle cx="94.34" cy="313.20" r="1.4" fill="#0a407f"/>
<circle cx="115.13" cy="290.14" r="1.4" fill="#0a407f"/>
<polyline points="43.85,326.70 52.02,325.24 57.66,325.97 66.12,325.24 76.97,323.29 94.34,317.49 115.13,294.52" fill="none" stroke="#0a407f" stroke-width="1.45" stroke-linejoin="round" stroke-dasharray="1.9,0.9"/>
<circle cx="43.85" cy="326.70" r="1.4" fill="#0a407f"/>
<circle cx="52.02" cy="325.24" r="1.4" fill="#0a407f"/>
<circle cx="57.66" cy="325.97" r="1.4" fill="#0a407f"/>
<circle cx="66.12" cy="325.24" r="1.4" fill="#0a407f"/>
<circle cx="76.97" cy="323.29" r="1.4" fill="#0a407f"/>
<circle cx="94.34" cy="317.49" r="1.4" fill="#0a407f"/>
<circle cx="115.13" cy="294.52" r="1.4" fill="#0a407f"/>
<polyline points="43.85,326.70 52.02,325.48 57.66,326.21 66.12,325.72 76.97,324.26 94.34,319.58 115.13,295.01" fill="none" stroke="#0a407f" stroke-width="1.45" stroke-linejoin="round" stroke-dasharray="1.9,0.9"/>
<circle cx="43.85" cy="326.70" r="1.4" fill="#0a407f"/>
<circle cx="52.02" cy="325.48" r="1.4" fill="#0a407f"/>
<circle cx="57.66" cy="326.21" r="1.4" fill="#0a407f"/>
<circle cx="66.12" cy="325.72" r="1.4" fill="#0a407f"/>
<circle cx="76.97" cy="324.26" r="1.4" fill="#0a407f"/>
<circle cx="94.34" cy="319.58" r="1.4" fill="#0a407f"/>
<circle cx="115.13" cy="295.01" r="1.4" fill="#0a407f"/>
<polyline points="43.85,326.70 52.02,325.72 57.66,326.21 66.12,325.72 76.97,325.24 94.34,322.41" fill="none" stroke="#0a407f" stroke-width="1.45" stroke-linejoin="round" stroke-dasharray="1.9,0.9"/>
<circle cx="43.85" cy="326.70" r="1.4" fill="#0a407f"/>
<circle cx="52.02" cy="325.72" r="1.4" fill="#0a407f"/>
<circle cx="57.66" cy="326.21" r="1.4" fill="#0a407f"/>
<circle cx="66.12" cy="325.72" r="1.4" fill="#0a407f"/>
<circle cx="76.97" cy="325.24" r="1.4" fill="#0a407f"/>
<circle cx="94.34" cy="322.41" r="1.4" fill="#0a407f"/>
<rect x="59.00" y="284.45" width="1.5" height="1.5" rx="0.3" fill="#1a1a1a"/>
<rect x="59.00" y="281.95" width="1.5" height="1.5" rx="0.3" fill="#1a1a1a"/>
<rect x="74.75" y="284.35" width="1.5" height="1.5" rx="0.3" fill="#1a1a1a"/>
<rect x="93.15" y="284.45" width="1.5" height="1.5" rx="0.3" fill="#1a1a1a"/>
<rect x="93.15" y="281.95" width="1.5" height="1.5" rx="0.3" fill="#1a1a1a"/>
<rect x="93.15" y="279.45" width="1.5" height="1.5" rx="0.3" fill="#1a1a1a"/>
<rect x="93.15" y="276.95" width="1.5" height="1.5" rx="0.3" fill="#1a1a1a"/>
<rect x="149.78" y="278.07" width="12.09" height="48.82" fill="#c3c3c7"/>
<line x1="148.60" y1="327.50" x2="148.60" y2="278.07" stroke="#1a1a1a" stroke-width="1.35" />
<line x1="148.00" y1="326.90" x2="222.35" y2="326.90" stroke="#1a1a1a" stroke-width="1.35" />
<line x1="145.60" y1="326.90" x2="148.60" y2="326.90" stroke="#1a1a1a" stroke-width="1.215" />
<text x="143.60" y="329.05" font-size="6.1" text-anchor="end" fill="#1a1a1a" stroke="#1a1a1a" stroke-width="0.09">0</text>
<line x1="145.60" y1="316.05" x2="148.60" y2="316.05" stroke="#1a1a1a" stroke-width="1.215" />
<text x="143.60" y="318.20" font-size="6.1" text-anchor="end" fill="#1a1a1a" stroke="#1a1a1a" stroke-width="0.09">10</text>
<line x1="145.60" y1="305.20" x2="148.60" y2="305.20" stroke="#1a1a1a" stroke-width="1.215" />
<text x="143.60" y="307.35" font-size="6.1" text-anchor="end" fill="#1a1a1a" stroke="#1a1a1a" stroke-width="0.09">20</text>
<line x1="145.60" y1="294.35" x2="148.60" y2="294.35" stroke="#1a1a1a" stroke-width="1.215" />
<text x="143.60" y="296.50" font-size="6.1" text-anchor="end" fill="#1a1a1a" stroke="#1a1a1a" stroke-width="0.09">30</text>
<line x1="145.60" y1="283.50" x2="148.60" y2="283.50" stroke="#1a1a1a" stroke-width="1.215" />
<text x="143.60" y="285.65" font-size="6.1" text-anchor="end" fill="#1a1a1a" stroke="#1a1a1a" stroke-width="0.09">40</text>
<line x1="148.60" y1="326.90" x2="148.60" y2="329.90" stroke="#1a1a1a" stroke-width="1.215" />
<text x="148.60" y="336.60" font-size="6.1" text-anchor="middle" fill="#1a1a1a" stroke="#1a1a1a" stroke-width="0.09">0</text>
<line x1="163.35" y1="326.90" x2="163.35" y2="329.90" stroke="#1a1a1a" stroke-width="1.215" />
<text x="163.35" y="336.60" font-size="6.1" text-anchor="middle" fill="#1a1a1a" stroke="#1a1a1a" stroke-width="0.09">10</text>
<line x1="178.10" y1="326.90" x2="178.10" y2="329.90" stroke="#1a1a1a" stroke-width="1.215" />
<text x="178.10" y="336.60" font-size="6.1" text-anchor="middle" fill="#1a1a1a" stroke="#1a1a1a" stroke-width="0.09">20</text>
<line x1="192.85" y1="326.90" x2="192.85" y2="329.90" stroke="#1a1a1a" stroke-width="1.215" />
<text x="192.85" y="336.60" font-size="6.1" text-anchor="middle" fill="#1a1a1a" stroke="#1a1a1a" stroke-width="0.09">30</text>
<line x1="207.60" y1="326.90" x2="207.60" y2="329.90" stroke="#1a1a1a" stroke-width="1.215" />
<text x="207.60" y="336.60" font-size="6.1" text-anchor="middle" fill="#1a1a1a" stroke="#1a1a1a" stroke-width="0.09">40</text>
<line x1="222.35" y1="326.90" x2="222.35" y2="329.90" stroke="#1a1a1a" stroke-width="1.215" />
<text x="222.35" y="336.60" font-size="6.1" text-anchor="middle" fill="#1a1a1a" stroke="#1a1a1a" stroke-width="0.09">50</text>
<text x="185.00" y="344.90" font-size="6.4" text-anchor="middle" fill="#1a1a1a" stroke="#1a1a1a" stroke-width="0.18" textLength="43.9" lengthAdjust="spacingAndGlyphs">Days post treatment</text>
<text x="131.90" y="303.00" font-size="6.7" text-anchor="middle" fill="#1a1a1a" stroke="#1a1a1a" stroke-width="0.18" textLength="55.2" lengthAdjust="spacingAndGlyphs" transform="rotate(-90 131.90 303.00)">CD200<tspan font-size="4.2" dy="-2.3">+</tspan><tspan dy="2.3"> engraftment (%)</tspan></text>
<polyline points="148.60,326.36 157.45,325.27 163.35,326.36 181.05,325.81 198.75,320.82" fill="none" stroke="#c60a2c" stroke-width="1.45" stroke-linejoin="round" />
<circle cx="148.60" cy="326.36" r="1.4" fill="#c60a2c"/>
<circle cx="157.45" cy="325.27" r="1.4" fill="#c60a2c"/>
<circle cx="163.35" cy="326.36" r="1.4" fill="#c60a2c"/>
<circle cx="181.05" cy="325.81" r="1.4" fill="#c60a2c"/>
<circle cx="198.75" cy="320.82" r="1.4" fill="#c60a2c"/>
<polyline points="148.60,326.36 157.45,325.60 163.35,326.36 181.05,325.81 198.75,322.56" fill="none" stroke="#c60a2c" stroke-width="1.45" stroke-linejoin="round" />
<circle cx="148.60" cy="326.36" r="1.4" fill="#c60a2c"/>
<circle cx="157.45" cy="325.60" r="1.4" fill="#c60a2c"/>
<circle cx="163.35" cy="326.36" r="1.4" fill="#c60a2c"/>
<circle cx="181.05" cy="325.81" r="1.4" fill="#c60a2c"/>
<circle cx="198.75" cy="322.56" r="1.4" fill="#c60a2c"/>
<polyline points="148.60,326.36 181.05,326.03 198.75,326.36" fill="none" stroke="#c60a2c" stroke-width="1.45" stroke-linejoin="round" />
<circle cx="148.60" cy="326.36" r="1.4" fill="#c60a2c"/>
<circle cx="181.05" cy="326.03" r="1.4" fill="#c60a2c"/>
<circle cx="198.75" cy="326.36" r="1.4" fill="#c60a2c"/>
<polyline points="148.60,326.36 157.45,324.95 163.35,326.03 170.72,326.03 181.05,325.81 198.75,323.10 219.40,316.48" fill="none" stroke="#0a407f" stroke-width="1.45" stroke-linejoin="round" stroke-dasharray="1.9,0.9"/>
<circle cx="148.60" cy="326.36" r="1.4" fill="#0a407f"/>
<circle cx="157.45" cy="324.95" r="1.4" fill="#0a407f"/>
<circle cx="163.35" cy="326.03" r="1.4" fill="#0a407f"/>
<circle cx="170.72" cy="326.03" r="1.4" fill="#0a407f"/>
<circle cx="181.05" cy="325.81" r="1.4" fill="#0a407f"/>
<circle cx="198.75" cy="323.10" r="1.4" fill="#0a407f"/>
<circle cx="219.40" cy="316.48" r="1.4" fill="#0a407f"/>
<polyline points="148.60,326.36 157.45,325.60 163.35,326.36 170.72,326.36 181.05,326.03 198.75,323.64 219.40,318.22" fill="none" stroke="#0a407f" stroke-width="1.45" stroke-linejoin="round" stroke-dasharray="1.9,0.9"/>
<circle cx="148.60" cy="326.36" r="1.4" fill="#0a407f"/>
<circle cx="157.45" cy="325.60" r="1.4" fill="#0a407f"/>
<circle cx="163.35" cy="326.36" r="1.4" fill="#0a407f"/>
<circle cx="170.72" cy="326.36" r="1.4" fill="#0a407f"/>
<circle cx="181.05" cy="326.03" r="1.4" fill="#0a407f"/>
<circle cx="198.75" cy="323.64" r="1.4" fill="#0a407f"/>
<circle cx="219.40" cy="318.22" r="1.4" fill="#0a407f"/>
<polyline points="148.60,326.36 181.05,326.36 198.75,324.19 219.40,319.74" fill="none" stroke="#0a407f" stroke-width="1.45" stroke-linejoin="round" stroke-dasharray="1.9,0.9"/>
<circle cx="148.60" cy="326.36" r="1.4" fill="#0a407f"/>
<circle cx="181.05" cy="326.36" r="1.4" fill="#0a407f"/>
<circle cx="198.75" cy="324.19" r="1.4" fill="#0a407f"/>
<circle cx="219.40" cy="319.74" r="1.4" fill="#0a407f"/>
<line x1="263.70" y1="327.40" x2="263.70" y2="276.53" stroke="#1a1a1a" stroke-width="1.35" />
<line x1="263.10" y1="326.80" x2="339.00" y2="326.80" stroke="#1a1a1a" stroke-width="1.35" />
<line x1="260.70" y1="326.80" x2="263.70" y2="326.80" stroke="#1a1a1a" stroke-width="1.215" />
<text x="258.70" y="328.95" font-size="6.1" text-anchor="end" fill="#1a1a1a" stroke="#1a1a1a" stroke-width="0.09">0</text>
<line x1="260.70" y1="317.66" x2="263.70" y2="317.66" stroke="#1a1a1a" stroke-width="1.215" />
<text x="258.70" y="319.81" font-size="6.1" text-anchor="end" fill="#1a1a1a" stroke="#1a1a1a" stroke-width="0.09">20</text>
<line x1="260.70" y1="308.52" x2="263.70" y2="308.52" stroke="#1a1a1a" stroke-width="1.215" />
<text x="258.70" y="310.67" font-size="6.1" text-anchor="end" fill="#1a1a1a" stroke="#1a1a1a" stroke-width="0.09">40</text>
<line x1="260.70" y1="299.38" x2="263.70" y2="299.38" stroke="#1a1a1a" stroke-width="1.215" />
<text x="258.70" y="301.53" font-size="6.1" text-anchor="end" fill="#1a1a1a" stroke="#1a1a1a" stroke-width="0.09">60</text>
<line x1="260.70" y1="290.24" x2="263.70" y2="290.24" stroke="#1a1a1a" stroke-width="1.215" />
<text x="258.70" y="292.39" font-size="6.1" text-anchor="end" fill="#1a1a1a" stroke="#1a1a1a" stroke-width="0.09">80</text>
<line x1="260.70" y1="281.10" x2="263.70" y2="281.10" stroke="#1a1a1a" stroke-width="1.215" />
<text x="258.70" y="283.25" font-size="6.1" text-anchor="end" fill="#1a1a1a" stroke="#1a1a1a" stroke-width="0.09">100</text>
<line x1="263.70" y1="326.80" x2="263.70" y2="329.80" stroke="#1a1a1a" stroke-width="1.215" />
<text x="263.70" y="336.50" font-size="6.1" text-anchor="middle" fill="#1a1a1a" stroke="#1a1a1a" stroke-width="0.09">0</text>
<line x1="278.76" y1="326.80" x2="278.76" y2="329.80" stroke="#1a1a1a" stroke-width="1.215" />
<text x="278.76" y="336.50" font-size="6.1" text-anchor="middle" fill="#1a1a1a" stroke="#1a1a1a" stroke-width="0.09">10</text>
<line x1="293.82" y1="326.80" x2="293.82" y2="329.80" stroke="#1a1a1a" stroke-width="1.215" />
<text x="293.82" y="336.50" font-size="6.1" text-anchor="middle" fill="#1a1a1a" stroke="#1a1a1a" stroke-width="0.09">20</text>
<line x1="308.88" y1="326.80" x2="308.88" y2="329.80" stroke="#1a1a1a" stroke-width="1.215" />
<text x="308.88" y="336.50" font-size="6.1" text-anchor="middle" fill="#1a1a1a" stroke="#1a1a1a" stroke-width="0.09">30</text>
<line x1="323.94" y1="326.80" x2="323.94" y2="329.80" stroke="#1a1a1a" stroke-width="1.215" />
<text x="323.94" y="336.50" font-size="6.1" text-anchor="middle" fill="#1a1a1a" stroke="#1a1a1a" stroke-width="0.09">40</text>
<line x1="339.00" y1="326.80" x2="339.00" y2="329.80" stroke="#1a1a1a" stroke-width="1.215" />
<text x="339.00" y="336.50" font-size="6.1" text-anchor="middle" fill="#1a1a1a" stroke="#1a1a1a" stroke-width="0.09">50</text>
<text x="301.40" y="346.00" font-size="6.4" text-anchor="middle" fill="#1a1a1a" stroke="#1a1a1a" stroke-width="0.18" textLength="43.9" lengthAdjust="spacingAndGlyphs">Days post treatment</text>
<text x="243.60" y="301.50" font-size="6.5" text-anchor="middle" fill="#1a1a1a" stroke="#1a1a1a" stroke-width="0.18" textLength="23.8" lengthAdjust="spacingAndGlyphs" transform="rotate(-90 243.60 301.50)">% survival</text>
<line x1="337.60" y1="278.50" x2="342.40" y2="278.50" stroke="#c60a2c" stroke-width="1.4" />
<circle cx="340.0" cy="278.30" r="1.0" fill="#c60a2c"/>
<text x="345.90" y="280.50" font-size="5.6" text-anchor="start" fill="#1a1a1a" stroke="#1a1a1a" stroke-width="0.09" textLength="11.0" lengthAdjust="spacingAndGlyphs">IgG4</text>
<line x1="337.60" y1="284.40" x2="342.40" y2="284.40" stroke="#0a407f" stroke-width="1.4" stroke-dasharray="1.4,0.7"/>
<circle cx="340.0" cy="284.20" r="1.0" fill="#0a407f"/>
<text x="346.10" y="286.40" font-size="5.6" text-anchor="start" fill="#1a1a1a" stroke="#1a1a1a" stroke-width="0.09" textLength="24.6" lengthAdjust="spacingAndGlyphs">TTI-CD200</text>
<text x="269.0" y="318.3" font-size="6.5" fill="#1a1a1a" stroke="#1a1a1a" stroke-width="0.12" textLength="23.8" lengthAdjust="spacingAndGlyphs"><tspan font-style="italic">P</tspan>=0.006</text>
<polyline points="314.90,281.10 335.99,281.10 335.99,326.80" fill="none" stroke="#0a407f" stroke-width="1.45" stroke-dasharray="1.8,1.0"/>
<polyline points="263.70,281.10 314.90,281.10 314.90,315.38 325.45,315.38 325.45,326.80" fill="none" stroke="#c60a2c" stroke-width="1.45" />
<line x1="404.10" y1="329.60" x2="404.10" y2="277.90" stroke="#1a1a1a" stroke-width="1.35" />
<line x1="404.10" y1="326.90" x2="478.00" y2="326.90" stroke="#1a1a1a" stroke-width="1.35" />
<line x1="401.10" y1="326.90" x2="404.10" y2="326.90" stroke="#1a1a1a" stroke-width="1.215" />
<text x="399.00" y="329.05" font-size="6.1" text-anchor="end" fill="#1a1a1a" stroke="#1a1a1a" stroke-width="0.09">0</text>
<line x1="401.10" y1="317.10" x2="404.10" y2="317.10" stroke="#1a1a1a" stroke-width="1.215" />
<text x="399.00" y="319.25" font-size="6.1" text-anchor="end" fill="#1a1a1a" stroke="#1a1a1a" stroke-width="0.09">20</text>
<line x1="401.10" y1="307.30" x2="404.10" y2="307.30" stroke="#1a1a1a" stroke-width="1.215" />
<text x="399.00" y="309.45" font-size="6.1" text-anchor="end" fill="#1a1a1a" stroke="#1a1a1a" stroke-width="0.09">40</text>
<line x1="401.10" y1="297.50" x2="404.10" y2="297.50" stroke="#1a1a1a" stroke-width="1.215" />
<text x="399.00" y="299.65" font-size="6.1" text-anchor="end" fill="#1a1a1a" stroke="#1a1a1a" stroke-width="0.09">60</text>
<line x1="401.10" y1="287.70" x2="404.10" y2="287.70" stroke="#1a1a1a" stroke-width="1.215" />
<text x="399.00" y="289.85" font-size="6.1" text-anchor="end" fill="#1a1a1a" stroke="#1a1a1a" stroke-width="0.09">80</text>
<line x1="401.10" y1="277.90" x2="404.10" y2="277.90" stroke="#1a1a1a" stroke-width="1.215" />
<text x="399.00" y="280.05" font-size="6.1" text-anchor="end" fill="#1a1a1a" stroke="#1a1a1a" stroke-width="0.09">100</text>
<line x1="402.10" y1="322.00" x2="404.10" y2="322.00" stroke="#1a1a1a" stroke-width="1.08" />
<line x1="402.10" y1="312.20" x2="404.10" y2="312.20" stroke="#1a1a1a" stroke-width="1.08" />
<line x1="402.10" y1="302.40" x2="404.10" y2="302.40" stroke="#1a1a1a" stroke-width="1.08" />
<line x1="402.10" y1="292.60" x2="404.10" y2="292.60" stroke="#1a1a1a" stroke-width="1.08" />
<line x1="402.10" y1="282.80" x2="404.10" y2="282.80" stroke="#1a1a1a" stroke-width="1.08" />
<line x1="421.20" y1="326.90" x2="421.20" y2="329.40" stroke="#1a1a1a" stroke-width="1.215" />
<line x1="460.80" y1="326.90" x2="460.80" y2="329.40" stroke="#1a1a1a" stroke-width="1.215" />
<text x="420.40" y="336.60" font-size="6.5" text-anchor="middle" fill="#1a1a1a" stroke="#1a1a1a" stroke-width="0.09" textLength="17.8" lengthAdjust="spacingAndGlyphs">CD10<tspan font-size="3.4" dy="-3.0">+</tspan></text>
<text x="460.50" y="336.60" font-size="6.5" text-anchor="middle" fill="#1a1a1a" stroke="#1a1a1a" stroke-width="0.09" textLength="22.0" lengthAdjust="spacingAndGlyphs">CD200<tspan font-size="3.4" dy="-3.0">+</tspan></text>
<text x="383.40" y="303.00" font-size="6.9" text-anchor="middle" fill="#1a1a1a" stroke="#1a1a1a" stroke-width="0.18" textLength="35.0" lengthAdjust="spacingAndGlyphs" transform="rotate(-90 383.40 303.00)">Proportion (%)</text>
<circle cx="415.90" cy="285.40" r="1.45" fill="#c60a2c"/>
<circle cx="411.70" cy="287.01" r="1.45" fill="#c60a2c"/>
<circle cx="413.90" cy="289.02" r="1.45" fill="#c60a2c"/>
<circle cx="413.90" cy="297.01" r="1.45" fill="#c60a2c"/>
<line x1="413.90" y1="284.42" x2="413.90" y2="294.61" stroke="#1a1a1a" stroke-width="1.0" />
<line x1="411.50" y1="284.42" x2="416.30" y2="284.42" stroke="#1a1a1a" stroke-width="1.0" />
<line x1="411.50" y1="294.61" x2="416.30" y2="294.61" stroke="#1a1a1a" stroke-width="1.0" />
<line x1="409.10" y1="289.51" x2="418.70" y2="289.51" stroke="#1a1a1a" stroke-width="1.1" />
<circle cx="426.80" cy="286.82" r="1.45" fill="#0a407f"/>
<circle cx="430.80" cy="286.82" r="1.45" fill="#0a407f"/>
<circle cx="426.80" cy="295.59" r="1.45" fill="#0a407f"/>
<circle cx="430.80" cy="295.29" r="1.45" fill="#0a407f"/>
<line x1="428.90" y1="286.38" x2="428.90" y2="295.59" stroke="#1a1a1a" stroke-width="1.0" />
<line x1="426.50" y1="286.38" x2="431.30" y2="286.38" stroke="#1a1a1a" stroke-width="1.0" />
<line x1="426.50" y1="295.59" x2="431.30" y2="295.59" stroke="#1a1a1a" stroke-width="1.0" />
<line x1="424.10" y1="291.13" x2="433.70" y2="291.13" stroke="#1a1a1a" stroke-width="1.1" />
<circle cx="453.70" cy="286.82" r="1.45" fill="#c60a2c"/>
<circle cx="451.70" cy="297.30" r="1.45" fill="#c60a2c"/>
<circle cx="455.40" cy="296.08" r="1.45" fill="#c60a2c"/>
<line x1="453.70" y1="289.12" x2="453.70" y2="297.99" stroke="#1a1a1a" stroke-width="1.0" />
<line x1="451.30" y1="289.12" x2="456.10" y2="289.12" stroke="#1a1a1a" stroke-width="1.0" />
<line x1="451.30" y1="297.99" x2="456.10" y2="297.99" stroke="#1a1a1a" stroke-width="1.0" />
<line x1="448.90" y1="293.78" x2="458.50" y2="293.78" stroke="#1a1a1a" stroke-width="1.1" />
<circle cx="468.65" cy="288.58" r="1.45" fill="#0a407f"/>
<circle cx="468.65" cy="302.30" r="1.45" fill="#0a407f"/>
<circle cx="468.65" cy="312.40" r="1.45" fill="#0a407f"/>
<circle cx="468.65" cy="316.32" r="1.45" fill="#0a407f"/>
<line x1="468.65" y1="292.99" x2="468.65" y2="317.10" stroke="#1a1a1a" stroke-width="1.0" />
<line x1="466.25" y1="292.99" x2="471.05" y2="292.99" stroke="#1a1a1a" stroke-width="1.0" />
<line x1="466.25" y1="317.10" x2="471.05" y2="317.10" stroke="#1a1a1a" stroke-width="1.0" />
<line x1="463.85" y1="305.09" x2="473.45" y2="305.09" stroke="#1a1a1a" stroke-width="1.1" />
<polyline points="454.20,277.40 454.20,275.60 467.60,275.60 467.60,277.40" fill="none" stroke="#1a1a1a" stroke-width="1.0"/>
<rect x="460.20" y="271.50" width="1.4" height="1.4" rx="0.3" fill="#1a1a1a"/>
<circle cx="484.0" cy="285.90" r="1.1" fill="#c60a2c"/>
<text x="487.90" y="287.90" font-size="5.6" text-anchor="start" fill="#1a1a1a" stroke="#1a1a1a" stroke-width="0.09" textLength="11.0" lengthAdjust="spacingAndGlyphs">IgG4</text>
<circle cx="484.0" cy="291.60" r="1.1" fill="#0a407f"/>
<text x="488.00" y="293.60" font-size="5.6" text-anchor="start" fill="#1a1a1a" stroke="#1a1a1a" stroke-width="0.09" textLength="24.6" lengthAdjust="spacingAndGlyphs">TTI-CD200</text>
</svg>
</body></html>
